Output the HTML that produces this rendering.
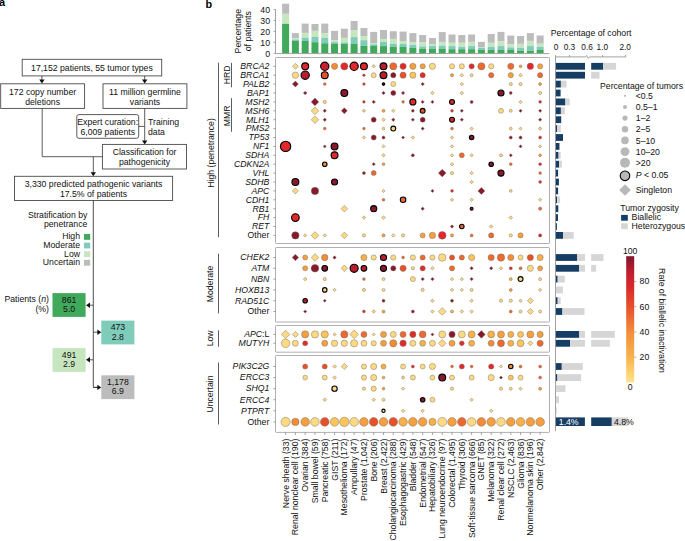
<!DOCTYPE html><html><head><meta charset="utf-8"><style>html,body{margin:0;padding:0;background:#fff;overflow:hidden}svg{display:block}text{font-family:"Liberation Sans",sans-serif;}</style></head><body><svg width="685" height="541" viewBox="0 0 685 541" font-family="Liberation Sans, sans-serif" fill="#111">
<rect width="685" height="541" fill="#fff"/>
<text x="-1.10" y="6.00" font-size="11" text-anchor="start" font-weight="bold" fill="#000">a</text>
<text x="205.40" y="7.90" font-size="10.8" text-anchor="start" font-weight="bold" fill="#000">b</text>
<rect x="22.2" y="59.3" width="139.50" height="16.60" rx="0" stroke="#4a4a4a" stroke-width="0.9" fill="none"/>
<text x="91.90" y="70.70" font-size="8.7" text-anchor="middle">17,152 patients, 55 tumor types</text>
<rect x="0.7" y="83.8" width="83.90" height="24.60" rx="0" stroke="#4a4a4a" stroke-width="0.9" fill="none"/>
<text x="42.60" y="94.70" font-size="8.7" text-anchor="middle">172 copy number</text>
<text x="42.60" y="104.70" font-size="8.7" text-anchor="middle">deletions</text>
<rect x="103.0" y="83.8" width="83.90" height="24.60" rx="0" stroke="#4a4a4a" stroke-width="0.9" fill="none"/>
<text x="145.00" y="94.70" font-size="8.7" text-anchor="middle">11 million germline</text>
<text x="145.00" y="104.70" font-size="8.7" text-anchor="middle">variants</text>
<line x1="41.9" y1="75.9" x2="41.9" y2="81.0" stroke="#333" stroke-width="0.8"/>
<path d="M39.199999999999996,79.5 L44.6,79.5 L41.9,83.5 Z" fill="#111"/>
<line x1="144.7" y1="75.9" x2="144.7" y2="81.0" stroke="#333" stroke-width="0.8"/>
<path d="M142.0,79.5 L147.39999999999998,79.5 L144.7,83.5 Z" fill="#111"/>
<rect x="76.8" y="114.6" width="61.90" height="23.70" rx="2.2" stroke="#4a4a4a" stroke-width="0.9" fill="none"/>
<text x="107.70" y="124.70" font-size="8.7" text-anchor="middle">Expert curation:</text>
<text x="107.70" y="134.80" font-size="8.7" text-anchor="middle">6,009 patients</text>
<line x1="138.7" y1="126.4" x2="144.7" y2="126.4" stroke="#333" stroke-width="0.8"/>
<line x1="144.7" y1="108.4" x2="144.7" y2="141.9" stroke="#333" stroke-width="0.8"/>
<path d="M142.0,140.4 L147.39999999999998,140.4 L144.7,144.4 Z" fill="#111"/>
<text x="148.00" y="125.10" font-size="8.7" text-anchor="start">Training</text>
<text x="148.00" y="134.80" font-size="8.7" text-anchor="start">data</text>
<rect x="102.4" y="144.4" width="84.10" height="24.60" rx="0" stroke="#4a4a4a" stroke-width="0.9" fill="none"/>
<text x="144.50" y="154.90" font-size="8.7" text-anchor="middle">Classification for</text>
<text x="144.50" y="165.40" font-size="8.7" text-anchor="middle">pathogenicity</text>
<polyline points="42.2,108.4 42.2,156.7 102.4,156.7" stroke="#333" stroke-width="0.8" fill="none"/>
<line x1="93.3" y1="156.7" x2="93.3" y2="173.8" stroke="#333" stroke-width="0.8"/>
<path d="M90.6,172.3 L96.0,172.3 L93.3,176.3 Z" fill="#111"/>
<rect x="14.5" y="176.3" width="158.10" height="24.20" rx="0" stroke="#4a4a4a" stroke-width="0.9" fill="none"/>
<text x="93.50" y="186.50" font-size="8.7" text-anchor="middle">3,330 predicted pathogenic variants</text>
<text x="93.50" y="196.50" font-size="8.7" text-anchor="middle">17.5% of patients</text>
<polyline points="93.3,200.5 93.3,387.4 99.5,387.4" stroke="#222" stroke-width="0.8" fill="none"/>
<text x="87.40" y="217.70" font-size="8.7" text-anchor="end">Stratification by</text>
<text x="87.40" y="227.20" font-size="8.7" text-anchor="end">penetrance</text>
<rect x="84.0" y="234.00" width="6.2" height="5.8" fill="#41a95b"/>
<text x="80.00" y="239.40" font-size="8.7" text-anchor="end">High</text>
<rect x="84.0" y="242.63" width="6.2" height="5.8" fill="#7fccbb"/>
<text x="80.00" y="248.03" font-size="8.7" text-anchor="end">Moderate</text>
<rect x="84.0" y="251.26" width="6.2" height="5.8" fill="#c7e6bf"/>
<text x="80.00" y="256.66" font-size="8.7" text-anchor="end">Low</text>
<rect x="84.0" y="259.89" width="6.2" height="5.8" fill="#bcbcbc"/>
<text x="80.00" y="265.29" font-size="8.7" text-anchor="end">Uncertain</text>
<rect x="52.5" y="293.1" width="33.1" height="23.8" fill="#41a95b"/>
<text x="69.10" y="302.50" font-size="8.7" text-anchor="middle">861</text>
<text x="69.10" y="312.10" font-size="8.7" text-anchor="middle">5.0</text>
<rect x="101.3" y="320.6" width="33.1" height="23.8" fill="#7fccbb"/>
<text x="117.90" y="330.00" font-size="8.7" text-anchor="middle">473</text>
<text x="117.90" y="339.60" font-size="8.7" text-anchor="middle">2.8</text>
<rect x="52.5" y="348.1" width="33.1" height="23.8" fill="#c7e6bf"/>
<text x="69.10" y="357.50" font-size="8.7" text-anchor="middle">491</text>
<text x="69.10" y="367.10" font-size="8.7" text-anchor="middle">2.9</text>
<rect x="101.3" y="375.3" width="33.1" height="23.8" fill="#bcbcbc"/>
<text x="117.90" y="384.70" font-size="8.7" text-anchor="middle">1,178</text>
<text x="117.90" y="394.30" font-size="8.7" text-anchor="middle">6.9</text>
<line x1="93.3" y1="305.2" x2="88.5" y2="305.2" stroke="#333" stroke-width="0.8"/>
<path d="M90.0,302.5 L90.0,307.9 L86.0,305.2 Z" fill="#111"/>
<line x1="93.3" y1="332.2" x2="98.8" y2="332.2" stroke="#333" stroke-width="0.8"/>
<path d="M97.3,329.5 L97.3,334.9 L101.3,332.2 Z" fill="#111"/>
<line x1="93.3" y1="359.8" x2="88.5" y2="359.8" stroke="#333" stroke-width="0.8"/>
<path d="M90.0,357.1 L90.0,362.5 L86.0,359.8 Z" fill="#111"/>
<line x1="93.3" y1="387.4" x2="98.8" y2="387.4" stroke="#333" stroke-width="0.8"/>
<path d="M97.3,384.7 L97.3,390.09999999999997 L101.3,387.4 Z" fill="#111"/>
<text x="48.90" y="301.60" font-size="8.7" text-anchor="end">Patients (<tspan font-style="italic">n</tspan>)</text>
<text x="48.90" y="311.60" font-size="8.7" text-anchor="end">(%)</text>
<line x1="275.5" y1="9.4" x2="275.5" y2="53.3" stroke="#8a8a8a" stroke-width="0.8"/>
<line x1="273.6" y1="53.30" x2="275.5" y2="53.30" stroke="#8a8a8a" stroke-width="0.8"/>
<text x="270.00" y="56.90" font-size="8.7" text-anchor="end">0</text>
<line x1="273.6" y1="42.35" x2="275.5" y2="42.35" stroke="#8a8a8a" stroke-width="0.8"/>
<text x="270.00" y="45.95" font-size="8.7" text-anchor="end">10</text>
<line x1="273.6" y1="31.40" x2="275.5" y2="31.40" stroke="#8a8a8a" stroke-width="0.8"/>
<text x="270.00" y="35.00" font-size="8.7" text-anchor="end">20</text>
<line x1="273.6" y1="20.45" x2="275.5" y2="20.45" stroke="#8a8a8a" stroke-width="0.8"/>
<text x="270.00" y="24.05" font-size="8.7" text-anchor="end">30</text>
<line x1="273.6" y1="9.50" x2="275.5" y2="9.50" stroke="#8a8a8a" stroke-width="0.8"/>
<text x="270.00" y="13.10" font-size="8.7" text-anchor="end">40</text>
<text transform="translate(240.60,31.20) rotate(-90)" font-size="8.7" text-anchor="middle">Percentage</text>
<text transform="translate(250.60,31.20) rotate(-90)" font-size="8.7" text-anchor="middle">of patients</text>
<rect x="282.10" y="3.7" width="7" height="10.10" fill="#bcbcbc"/>
<rect x="282.10" y="13.8" width="7" height="10.00" fill="#c7e6bf"/>
<rect x="282.10" y="23.8" width="7" height="0.00" fill="#7fccbb"/>
<rect x="282.10" y="23.8" width="7" height="29.50" fill="#41a95b"/>
<rect x="291.89" y="33.1" width="7" height="5.20" fill="#bcbcbc"/>
<rect x="291.89" y="38.3" width="7" height="1.20" fill="#c7e6bf"/>
<rect x="291.89" y="39.5" width="7" height="1.20" fill="#7fccbb"/>
<rect x="291.89" y="40.7" width="7" height="12.60" fill="#41a95b"/>
<rect x="301.68" y="23.6" width="7" height="9.30" fill="#bcbcbc"/>
<rect x="301.68" y="32.9" width="7" height="4.70" fill="#c7e6bf"/>
<rect x="301.68" y="37.6" width="7" height="3.30" fill="#7fccbb"/>
<rect x="301.68" y="40.9" width="7" height="12.40" fill="#41a95b"/>
<rect x="311.47" y="24.0" width="7" height="6.90" fill="#bcbcbc"/>
<rect x="311.47" y="30.9" width="7" height="6.00" fill="#c7e6bf"/>
<rect x="311.47" y="36.9" width="7" height="5.30" fill="#7fccbb"/>
<rect x="311.47" y="42.2" width="7" height="11.10" fill="#41a95b"/>
<rect x="321.26" y="23.6" width="7" height="9.50" fill="#bcbcbc"/>
<rect x="321.26" y="33.1" width="7" height="4.80" fill="#c7e6bf"/>
<rect x="321.26" y="37.9" width="7" height="5.40" fill="#7fccbb"/>
<rect x="321.26" y="43.3" width="7" height="10.00" fill="#41a95b"/>
<rect x="331.05" y="30.9" width="7" height="9.50" fill="#bcbcbc"/>
<rect x="331.05" y="40.4" width="7" height="1.80" fill="#c7e6bf"/>
<rect x="331.05" y="42.2" width="7" height="1.30" fill="#7fccbb"/>
<rect x="331.05" y="43.5" width="7" height="9.80" fill="#41a95b"/>
<rect x="340.84" y="28.7" width="7" height="9.20" fill="#bcbcbc"/>
<rect x="340.84" y="37.9" width="7" height="4.60" fill="#c7e6bf"/>
<rect x="340.84" y="42.5" width="7" height="1.30" fill="#7fccbb"/>
<rect x="340.84" y="43.8" width="7" height="9.50" fill="#41a95b"/>
<rect x="350.63" y="21.0" width="7" height="9.10" fill="#bcbcbc"/>
<rect x="350.63" y="30.1" width="7" height="7.00" fill="#c7e6bf"/>
<rect x="350.63" y="37.1" width="7" height="6.90" fill="#7fccbb"/>
<rect x="350.63" y="44.0" width="7" height="9.30" fill="#41a95b"/>
<rect x="360.42" y="28.0" width="7" height="8.00" fill="#bcbcbc"/>
<rect x="360.42" y="36.0" width="7" height="4.20" fill="#c7e6bf"/>
<rect x="360.42" y="40.2" width="7" height="5.70" fill="#7fccbb"/>
<rect x="360.42" y="45.9" width="7" height="7.40" fill="#41a95b"/>
<rect x="370.21" y="31.9" width="7" height="11.10" fill="#bcbcbc"/>
<rect x="370.21" y="43.0" width="7" height="1.30" fill="#c7e6bf"/>
<rect x="370.21" y="44.3" width="7" height="1.60" fill="#7fccbb"/>
<rect x="370.21" y="45.9" width="7" height="7.40" fill="#41a95b"/>
<rect x="380.00" y="30.0" width="7" height="9.10" fill="#bcbcbc"/>
<rect x="380.00" y="39.1" width="7" height="2.90" fill="#c7e6bf"/>
<rect x="380.00" y="42.0" width="7" height="4.10" fill="#7fccbb"/>
<rect x="380.00" y="46.1" width="7" height="7.20" fill="#41a95b"/>
<rect x="389.79" y="31.2" width="7" height="7.70" fill="#bcbcbc"/>
<rect x="389.79" y="38.9" width="7" height="4.90" fill="#c7e6bf"/>
<rect x="389.79" y="43.8" width="7" height="3.00" fill="#7fccbb"/>
<rect x="389.79" y="46.8" width="7" height="6.50" fill="#41a95b"/>
<rect x="399.58" y="31.6" width="7" height="9.40" fill="#bcbcbc"/>
<rect x="399.58" y="41.0" width="7" height="2.90" fill="#c7e6bf"/>
<rect x="399.58" y="43.9" width="7" height="3.00" fill="#7fccbb"/>
<rect x="399.58" y="46.9" width="7" height="6.40" fill="#41a95b"/>
<rect x="409.37" y="33.1" width="7" height="8.90" fill="#bcbcbc"/>
<rect x="409.37" y="42.0" width="7" height="3.00" fill="#c7e6bf"/>
<rect x="409.37" y="45.0" width="7" height="2.80" fill="#7fccbb"/>
<rect x="409.37" y="47.8" width="7" height="5.50" fill="#41a95b"/>
<rect x="419.16" y="35.0" width="7" height="7.10" fill="#bcbcbc"/>
<rect x="419.16" y="42.1" width="7" height="4.30" fill="#c7e6bf"/>
<rect x="419.16" y="46.4" width="7" height="2.50" fill="#7fccbb"/>
<rect x="419.16" y="48.9" width="7" height="4.40" fill="#41a95b"/>
<rect x="428.95" y="38.0" width="7" height="6.00" fill="#bcbcbc"/>
<rect x="428.95" y="44.0" width="7" height="1.90" fill="#c7e6bf"/>
<rect x="428.95" y="45.9" width="7" height="3.00" fill="#7fccbb"/>
<rect x="428.95" y="48.9" width="7" height="4.40" fill="#41a95b"/>
<rect x="438.74" y="32.1" width="7" height="9.80" fill="#bcbcbc"/>
<rect x="438.74" y="41.9" width="7" height="3.70" fill="#c7e6bf"/>
<rect x="438.74" y="45.6" width="7" height="3.30" fill="#7fccbb"/>
<rect x="438.74" y="48.9" width="7" height="4.40" fill="#41a95b"/>
<rect x="448.53" y="34.5" width="7" height="8.30" fill="#bcbcbc"/>
<rect x="448.53" y="42.8" width="7" height="3.30" fill="#c7e6bf"/>
<rect x="448.53" y="46.1" width="7" height="3.10" fill="#7fccbb"/>
<rect x="448.53" y="49.2" width="7" height="4.10" fill="#41a95b"/>
<rect x="458.32" y="35.0" width="7" height="7.80" fill="#bcbcbc"/>
<rect x="458.32" y="42.8" width="7" height="4.10" fill="#c7e6bf"/>
<rect x="458.32" y="46.9" width="7" height="2.30" fill="#7fccbb"/>
<rect x="458.32" y="49.2" width="7" height="4.10" fill="#41a95b"/>
<rect x="468.11" y="34.5" width="7" height="7.40" fill="#bcbcbc"/>
<rect x="468.11" y="41.9" width="7" height="4.20" fill="#c7e6bf"/>
<rect x="468.11" y="46.1" width="7" height="3.10" fill="#7fccbb"/>
<rect x="468.11" y="49.2" width="7" height="4.10" fill="#41a95b"/>
<rect x="477.90" y="41.9" width="7" height="5.10" fill="#bcbcbc"/>
<rect x="477.90" y="47.0" width="7" height="0.90" fill="#c7e6bf"/>
<rect x="477.90" y="47.9" width="7" height="1.70" fill="#7fccbb"/>
<rect x="477.90" y="49.6" width="7" height="3.70" fill="#41a95b"/>
<rect x="487.69" y="34.0" width="7" height="8.80" fill="#bcbcbc"/>
<rect x="487.69" y="42.8" width="7" height="4.00" fill="#c7e6bf"/>
<rect x="487.69" y="46.8" width="7" height="3.10" fill="#7fccbb"/>
<rect x="487.69" y="49.9" width="7" height="3.40" fill="#41a95b"/>
<rect x="497.48" y="31.9" width="7" height="9.50" fill="#bcbcbc"/>
<rect x="497.48" y="41.4" width="7" height="4.70" fill="#c7e6bf"/>
<rect x="497.48" y="46.1" width="7" height="3.80" fill="#7fccbb"/>
<rect x="497.48" y="49.9" width="7" height="3.40" fill="#41a95b"/>
<rect x="507.27" y="35.5" width="7" height="8.70" fill="#bcbcbc"/>
<rect x="507.27" y="44.2" width="7" height="3.20" fill="#c7e6bf"/>
<rect x="507.27" y="47.4" width="7" height="2.50" fill="#7fccbb"/>
<rect x="507.27" y="49.9" width="7" height="3.40" fill="#41a95b"/>
<rect x="517.06" y="36.0" width="7" height="7.80" fill="#bcbcbc"/>
<rect x="517.06" y="43.8" width="7" height="4.00" fill="#c7e6bf"/>
<rect x="517.06" y="47.8" width="7" height="2.90" fill="#7fccbb"/>
<rect x="517.06" y="50.7" width="7" height="2.60" fill="#41a95b"/>
<rect x="526.85" y="33.1" width="7" height="7.80" fill="#bcbcbc"/>
<rect x="526.85" y="40.9" width="7" height="5.20" fill="#c7e6bf"/>
<rect x="526.85" y="46.1" width="7" height="4.80" fill="#7fccbb"/>
<rect x="526.85" y="50.9" width="7" height="2.40" fill="#41a95b"/>
<rect x="536.64" y="35.5" width="7" height="8.20" fill="#bcbcbc"/>
<rect x="536.64" y="43.7" width="7" height="3.10" fill="#c7e6bf"/>
<rect x="536.64" y="46.8" width="7" height="3.10" fill="#7fccbb"/>
<rect x="536.64" y="49.9" width="7" height="3.40" fill="#41a95b"/>
<line x1="275.5" y1="53.6" x2="549.3" y2="53.6" stroke="#8a8a8a" stroke-width="0.8"/>
<rect x="275.5" y="57.5" width="274.00" height="186.00" rx="0.8" stroke="#9a9a9a" stroke-width="0.8" fill="none"/>
<line x1="273.4" y1="66.3" x2="275.6" y2="66.3" stroke="#8a8a8a" stroke-width="0.8"/>
<text x="269.30" y="69.10" font-size="8.7" text-anchor="end" font-style="italic">BRCA2</text>
<line x1="273.4" y1="75.2" x2="275.6" y2="75.2" stroke="#8a8a8a" stroke-width="0.8"/>
<text x="269.30" y="78.00" font-size="8.7" text-anchor="end" font-style="italic">BRCA1</text>
<line x1="273.4" y1="84.1" x2="275.6" y2="84.1" stroke="#8a8a8a" stroke-width="0.8"/>
<text x="269.30" y="86.90" font-size="8.7" text-anchor="end" font-style="italic">PALB2</text>
<line x1="273.4" y1="93.0" x2="275.6" y2="93.0" stroke="#8a8a8a" stroke-width="0.8"/>
<text x="269.30" y="95.80" font-size="8.7" text-anchor="end" font-style="italic">BAP1</text>
<line x1="273.4" y1="101.9" x2="275.6" y2="101.9" stroke="#8a8a8a" stroke-width="0.8"/>
<text x="269.30" y="104.70" font-size="8.7" text-anchor="end" font-style="italic">MSH2</text>
<line x1="273.4" y1="110.8" x2="275.6" y2="110.8" stroke="#8a8a8a" stroke-width="0.8"/>
<text x="269.30" y="113.60" font-size="8.7" text-anchor="end" font-style="italic">MSH6</text>
<line x1="273.4" y1="119.7" x2="275.6" y2="119.7" stroke="#8a8a8a" stroke-width="0.8"/>
<text x="269.30" y="122.50" font-size="8.7" text-anchor="end" font-style="italic">MLH1</text>
<line x1="273.4" y1="128.6" x2="275.6" y2="128.6" stroke="#8a8a8a" stroke-width="0.8"/>
<text x="269.30" y="131.40" font-size="8.7" text-anchor="end" font-style="italic">PMS2</text>
<line x1="273.4" y1="137.5" x2="275.6" y2="137.5" stroke="#8a8a8a" stroke-width="0.8"/>
<text x="269.30" y="140.30" font-size="8.7" text-anchor="end" font-style="italic">TP53</text>
<line x1="273.4" y1="146.4" x2="275.6" y2="146.4" stroke="#8a8a8a" stroke-width="0.8"/>
<text x="269.30" y="149.20" font-size="8.7" text-anchor="end" font-style="italic">NF1</text>
<line x1="273.4" y1="155.3" x2="275.6" y2="155.3" stroke="#8a8a8a" stroke-width="0.8"/>
<text x="269.30" y="158.10" font-size="8.7" text-anchor="end" font-style="italic">SDHA</text>
<line x1="273.4" y1="164.2" x2="275.6" y2="164.2" stroke="#8a8a8a" stroke-width="0.8"/>
<text x="269.30" y="167.00" font-size="8.7" text-anchor="end" font-style="italic">CDKN2A</text>
<line x1="273.4" y1="173.10000000000002" x2="275.6" y2="173.10000000000002" stroke="#8a8a8a" stroke-width="0.8"/>
<text x="269.30" y="175.90" font-size="8.7" text-anchor="end" font-style="italic">VHL</text>
<line x1="273.4" y1="182.0" x2="275.6" y2="182.0" stroke="#8a8a8a" stroke-width="0.8"/>
<text x="269.30" y="184.80" font-size="8.7" text-anchor="end" font-style="italic">SDHB</text>
<line x1="273.4" y1="190.9" x2="275.6" y2="190.9" stroke="#8a8a8a" stroke-width="0.8"/>
<text x="269.30" y="193.70" font-size="8.7" text-anchor="end" font-style="italic">APC</text>
<line x1="273.4" y1="199.8" x2="275.6" y2="199.8" stroke="#8a8a8a" stroke-width="0.8"/>
<text x="269.30" y="202.60" font-size="8.7" text-anchor="end" font-style="italic">CDH1</text>
<line x1="273.4" y1="208.7" x2="275.6" y2="208.7" stroke="#8a8a8a" stroke-width="0.8"/>
<text x="269.30" y="211.50" font-size="8.7" text-anchor="end" font-style="italic">RB1</text>
<line x1="273.4" y1="217.60000000000002" x2="275.6" y2="217.60000000000002" stroke="#8a8a8a" stroke-width="0.8"/>
<text x="269.30" y="220.40" font-size="8.7" text-anchor="end" font-style="italic">FH</text>
<line x1="273.4" y1="226.5" x2="275.6" y2="226.5" stroke="#8a8a8a" stroke-width="0.8"/>
<text x="269.30" y="229.30" font-size="8.7" text-anchor="end" font-style="italic">RET</text>
<line x1="273.4" y1="235.39999999999998" x2="275.6" y2="235.39999999999998" stroke="#8a8a8a" stroke-width="0.8"/>
<text x="269.30" y="238.20" font-size="8.7" text-anchor="end">Other</text>
<rect x="275.5" y="247.5" width="274.00" height="74.50" rx="0.8" stroke="#9a9a9a" stroke-width="0.8" fill="none"/>
<line x1="273.4" y1="257.5" x2="275.6" y2="257.5" stroke="#8a8a8a" stroke-width="0.8"/>
<text x="269.30" y="260.30" font-size="8.7" text-anchor="end" font-style="italic">CHEK2</text>
<line x1="273.4" y1="268.3" x2="275.6" y2="268.3" stroke="#8a8a8a" stroke-width="0.8"/>
<text x="269.30" y="271.10" font-size="8.7" text-anchor="end" font-style="italic">ATM</text>
<line x1="273.4" y1="279.1" x2="275.6" y2="279.1" stroke="#8a8a8a" stroke-width="0.8"/>
<text x="269.30" y="281.90" font-size="8.7" text-anchor="end" font-style="italic">NBN</text>
<line x1="273.4" y1="289.9" x2="275.6" y2="289.9" stroke="#8a8a8a" stroke-width="0.8"/>
<text x="269.30" y="292.70" font-size="8.7" text-anchor="end" font-style="italic">HOXB13</text>
<line x1="273.4" y1="300.7" x2="275.6" y2="300.7" stroke="#8a8a8a" stroke-width="0.8"/>
<text x="269.30" y="303.50" font-size="8.7" text-anchor="end" font-style="italic">RAD51C</text>
<line x1="273.4" y1="311.5" x2="275.6" y2="311.5" stroke="#8a8a8a" stroke-width="0.8"/>
<text x="269.30" y="314.30" font-size="8.7" text-anchor="end">Other</text>
<rect x="275.5" y="325.5" width="274.00" height="26.70" rx="0.8" stroke="#9a9a9a" stroke-width="0.8" fill="none"/>
<line x1="273.4" y1="334.4" x2="275.6" y2="334.4" stroke="#8a8a8a" stroke-width="0.8"/>
<text x="269.30" y="337.20" font-size="8.7" text-anchor="end"><tspan font-style="italic">APC</tspan>:L</text>
<line x1="273.4" y1="343.3" x2="275.6" y2="343.3" stroke="#8a8a8a" stroke-width="0.8"/>
<text x="269.30" y="346.10" font-size="8.7" text-anchor="end" font-style="italic">MUTYH</text>
<rect x="275.5" y="355.5" width="274.00" height="76.90" rx="0.8" stroke="#9a9a9a" stroke-width="0.8" fill="none"/>
<line x1="273.4" y1="366.5" x2="275.6" y2="366.5" stroke="#8a8a8a" stroke-width="0.8"/>
<text x="269.30" y="369.30" font-size="8.7" text-anchor="end" font-style="italic">PIK3C2G</text>
<line x1="273.4" y1="377.58" x2="275.6" y2="377.58" stroke="#8a8a8a" stroke-width="0.8"/>
<text x="269.30" y="380.38" font-size="8.7" text-anchor="end" font-style="italic">ERCC3</text>
<line x1="273.4" y1="388.66" x2="275.6" y2="388.66" stroke="#8a8a8a" stroke-width="0.8"/>
<text x="269.30" y="391.46" font-size="8.7" text-anchor="end" font-style="italic">SHQ1</text>
<line x1="273.4" y1="399.74" x2="275.6" y2="399.74" stroke="#8a8a8a" stroke-width="0.8"/>
<text x="269.30" y="402.54" font-size="8.7" text-anchor="end" font-style="italic">ERCC4</text>
<line x1="273.4" y1="410.82" x2="275.6" y2="410.82" stroke="#8a8a8a" stroke-width="0.8"/>
<text x="269.30" y="413.62" font-size="8.7" text-anchor="end" font-style="italic">PTPRT</text>
<line x1="273.4" y1="421.9" x2="275.6" y2="421.9" stroke="#8a8a8a" stroke-width="0.8"/>
<text x="269.30" y="424.70" font-size="8.7" text-anchor="end">Other</text>
<line x1="285.60" y1="432.4" x2="285.60" y2="434.9" stroke="#8a8a8a" stroke-width="0.8"/>
<text transform="translate(288.60,438.60) rotate(-90)" font-size="8.7" text-anchor="end">Nerve sheath (33)</text>
<line x1="295.39" y1="432.4" x2="295.39" y2="434.9" stroke="#8a8a8a" stroke-width="0.8"/>
<text transform="translate(298.39,438.60) rotate(-90)" font-size="8.7" text-anchor="end">Renal nonclear cell (190)</text>
<line x1="305.18" y1="432.4" x2="305.18" y2="434.9" stroke="#8a8a8a" stroke-width="0.8"/>
<text transform="translate(308.18,438.60) rotate(-90)" font-size="8.7" text-anchor="end">Ovarian (384)</text>
<line x1="314.97" y1="432.4" x2="314.97" y2="434.9" stroke="#8a8a8a" stroke-width="0.8"/>
<text transform="translate(317.97,438.60) rotate(-90)" font-size="8.7" text-anchor="end">Small bowel (59)</text>
<line x1="324.76" y1="432.4" x2="324.76" y2="434.9" stroke="#8a8a8a" stroke-width="0.8"/>
<text transform="translate(327.76,438.60) rotate(-90)" font-size="8.7" text-anchor="end">Pancreatic (758)</text>
<line x1="334.55" y1="432.4" x2="334.55" y2="434.9" stroke="#8a8a8a" stroke-width="0.8"/>
<text transform="translate(337.55,438.60) rotate(-90)" font-size="8.7" text-anchor="end">GIST (211)</text>
<line x1="344.34" y1="432.4" x2="344.34" y2="434.9" stroke="#8a8a8a" stroke-width="0.8"/>
<text transform="translate(347.34,438.60) rotate(-90)" font-size="8.7" text-anchor="end">Mesothelioma (172)</text>
<line x1="354.13" y1="432.4" x2="354.13" y2="434.9" stroke="#8a8a8a" stroke-width="0.8"/>
<text transform="translate(357.13,438.60) rotate(-90)" font-size="8.7" text-anchor="end">Ampullary (47)</text>
<line x1="363.92" y1="432.4" x2="363.92" y2="434.9" stroke="#8a8a8a" stroke-width="0.8"/>
<text transform="translate(366.92,438.60) rotate(-90)" font-size="8.7" text-anchor="end">Prostate (1,042)</text>
<line x1="373.71" y1="432.4" x2="373.71" y2="434.9" stroke="#8a8a8a" stroke-width="0.8"/>
<text transform="translate(376.71,438.60) rotate(-90)" font-size="8.7" text-anchor="end">Bone (206)</text>
<line x1="383.50" y1="432.4" x2="383.50" y2="434.9" stroke="#8a8a8a" stroke-width="0.8"/>
<text transform="translate(386.50,438.60) rotate(-90)" font-size="8.7" text-anchor="end">Breast (2,422)</text>
<line x1="393.29" y1="432.4" x2="393.29" y2="434.9" stroke="#8a8a8a" stroke-width="0.8"/>
<text transform="translate(396.29,438.60) rotate(-90)" font-size="8.7" text-anchor="end">Cholangiocarcinoma (288)</text>
<line x1="403.08" y1="432.4" x2="403.08" y2="434.9" stroke="#8a8a8a" stroke-width="0.8"/>
<text transform="translate(406.08,438.60) rotate(-90)" font-size="8.7" text-anchor="end">Esophagogastric (429)</text>
<line x1="412.87" y1="432.4" x2="412.87" y2="434.9" stroke="#8a8a8a" stroke-width="0.8"/>
<text transform="translate(415.87,438.60) rotate(-90)" font-size="8.7" text-anchor="end">Bladder (548)</text>
<line x1="422.66" y1="432.4" x2="422.66" y2="434.9" stroke="#8a8a8a" stroke-width="0.8"/>
<text transform="translate(425.66,438.60) rotate(-90)" font-size="8.7" text-anchor="end">Endometrial (547)</text>
<line x1="432.45" y1="432.4" x2="432.45" y2="434.9" stroke="#8a8a8a" stroke-width="0.8"/>
<text transform="translate(435.45,438.60) rotate(-90)" font-size="8.7" text-anchor="end">Hepatobiliary (326)</text>
<line x1="442.24" y1="432.4" x2="442.24" y2="434.9" stroke="#8a8a8a" stroke-width="0.8"/>
<text transform="translate(445.24,438.60) rotate(-90)" font-size="8.7" text-anchor="end">Lung neuroendocrine (97)</text>
<line x1="452.03" y1="432.4" x2="452.03" y2="434.9" stroke="#8a8a8a" stroke-width="0.8"/>
<text transform="translate(455.03,438.60) rotate(-90)" font-size="8.7" text-anchor="end">Colorectal (1,495)</text>
<line x1="461.82" y1="432.4" x2="461.82" y2="434.9" stroke="#8a8a8a" stroke-width="0.8"/>
<text transform="translate(464.82,438.60) rotate(-90)" font-size="8.7" text-anchor="end">Thyroid (306)</text>
<line x1="471.61" y1="432.4" x2="471.61" y2="434.9" stroke="#8a8a8a" stroke-width="0.8"/>
<text transform="translate(474.61,438.60) rotate(-90)" font-size="8.7" text-anchor="end">Soft-tissue sarcoma (666)</text>
<line x1="481.40" y1="432.4" x2="481.40" y2="434.9" stroke="#8a8a8a" stroke-width="0.8"/>
<text transform="translate(484.40,438.60) rotate(-90)" font-size="8.7" text-anchor="end">GNET (85)</text>
<line x1="491.19" y1="432.4" x2="491.19" y2="434.9" stroke="#8a8a8a" stroke-width="0.8"/>
<text transform="translate(494.19,438.60) rotate(-90)" font-size="8.7" text-anchor="end">Melanoma (322)</text>
<line x1="500.98" y1="432.4" x2="500.98" y2="434.9" stroke="#8a8a8a" stroke-width="0.8"/>
<text transform="translate(503.98,438.60) rotate(-90)" font-size="8.7" text-anchor="end">Renal clear cell (272)</text>
<line x1="510.77" y1="432.4" x2="510.77" y2="434.9" stroke="#8a8a8a" stroke-width="0.8"/>
<text transform="translate(513.77,438.60) rotate(-90)" font-size="8.7" text-anchor="end">NSCLC (2,463)</text>
<line x1="520.56" y1="432.4" x2="520.56" y2="434.9" stroke="#8a8a8a" stroke-width="0.8"/>
<text transform="translate(523.56,438.60) rotate(-90)" font-size="8.7" text-anchor="end">Glioma (836)</text>
<line x1="530.35" y1="432.4" x2="530.35" y2="434.9" stroke="#8a8a8a" stroke-width="0.8"/>
<text transform="translate(533.35,438.60) rotate(-90)" font-size="8.7" text-anchor="end">Nonmelanoma skin (196)</text>
<line x1="540.14" y1="432.4" x2="540.14" y2="434.9" stroke="#8a8a8a" stroke-width="0.8"/>
<text transform="translate(543.14,438.60) rotate(-90)" font-size="8.7" text-anchor="end">Other (2,842)</text>
<line x1="218.5" y1="62.7" x2="218.5" y2="237.2" stroke="#333" stroke-width="0.8"/>
<text transform="translate(214.00,153.00) rotate(-90)" font-size="8.7" text-anchor="middle">High (penetrance)</text>
<line x1="231.5" y1="62.9" x2="231.5" y2="87.3" stroke="#333" stroke-width="0.8"/>
<text transform="translate(229.60,74.90) rotate(-90)" font-size="8.7" text-anchor="middle">HRD</text>
<line x1="231.5" y1="98.2" x2="231.5" y2="131.8" stroke="#333" stroke-width="0.8"/>
<text transform="translate(229.60,115.90) rotate(-90)" font-size="8.7" text-anchor="middle">MMR</text>
<line x1="218.5" y1="253.8" x2="218.5" y2="313.4" stroke="#333" stroke-width="0.8"/>
<text transform="translate(213.00,284.00) rotate(-90)" font-size="8.7" text-anchor="middle">Moderate</text>
<line x1="218.5" y1="330.3" x2="218.5" y2="346.8" stroke="#333" stroke-width="0.8"/>
<text transform="translate(213.00,338.40) rotate(-90)" font-size="8.7" text-anchor="middle">Low</text>
<line x1="218.5" y1="362.5" x2="218.5" y2="424.5" stroke="#333" stroke-width="0.8"/>
<text transform="translate(213.00,394.00) rotate(-90)" font-size="8.7" text-anchor="middle">Uncertain</text>
<path d="M295.39,63.40 L298.29,66.30 L295.39,69.20 L292.49,66.30 Z" fill="#fcd983" stroke="#776b5a" stroke-width="0.45"/>
<circle cx="305.18" cy="66.30" r="3.45" fill="#e0292c" stroke="#000" stroke-width="1.1"/>
<circle cx="324.76" cy="66.30" r="4.15" fill="#c8202f" stroke="#000" stroke-width="1.1"/>
<circle cx="334.55" cy="66.30" r="3.10" fill="#f28c38" stroke="#776b5a" stroke-width="0.45"/>
<circle cx="344.34" cy="66.30" r="3.60" fill="#e0292c" stroke="#776b5a" stroke-width="0.45"/>
<circle cx="354.13" cy="66.30" r="4.15" fill="#e0292c" stroke="#000" stroke-width="1.1"/>
<circle cx="363.92" cy="66.30" r="3.45" fill="#e0292c" stroke="#000" stroke-width="1.1"/>
<path d="M373.71,64.50 L375.51,66.30 L373.71,68.10 L371.91,66.30 Z" fill="#fcd983" stroke="#776b5a" stroke-width="0.45"/>
<circle cx="383.50" cy="66.30" r="3.45" fill="#b51f2e" stroke="#000" stroke-width="1.1"/>
<circle cx="393.29" cy="66.30" r="3.60" fill="#ec6a30" stroke="#776b5a" stroke-width="0.45"/>
<circle cx="403.08" cy="66.30" r="3.10" fill="#e0292c" stroke="#776b5a" stroke-width="0.45"/>
<circle cx="412.87" cy="66.30" r="3.10" fill="#f5a040" stroke="#776b5a" stroke-width="0.45"/>
<circle cx="422.66" cy="66.30" r="2.60" fill="#f5a040" stroke="#776b5a" stroke-width="0.45"/>
<circle cx="432.45" cy="66.30" r="3.10" fill="#fcd983" stroke="#776b5a" stroke-width="0.45"/>
<circle cx="452.03" cy="66.30" r="2.60" fill="#fcd983" stroke="#776b5a" stroke-width="0.45"/>
<circle cx="461.82" cy="66.30" r="2.60" fill="#fcd983" stroke="#776b5a" stroke-width="0.45"/>
<circle cx="471.61" cy="66.30" r="2.60" fill="#e0292c" stroke="#776b5a" stroke-width="0.45"/>
<circle cx="481.40" cy="66.30" r="3.60" fill="#ec6a30" stroke="#776b5a" stroke-width="0.45"/>
<circle cx="491.19" cy="66.30" r="2.60" fill="#fcd983" stroke="#776b5a" stroke-width="0.45"/>
<circle cx="510.77" cy="66.30" r="3.10" fill="#ec6a30" stroke="#776b5a" stroke-width="0.45"/>
<circle cx="520.56" cy="66.30" r="1.40" fill="#f5a040" stroke="#776b5a" stroke-width="0.45"/>
<circle cx="530.35" cy="66.30" r="3.20" fill="#e0292c" stroke="#776b5a" stroke-width="0.45"/>
<circle cx="540.14" cy="66.30" r="2.60" fill="#f5a040" stroke="#776b5a" stroke-width="0.45"/>
<circle cx="295.39" cy="75.20" r="3.20" fill="#fcd983" stroke="#776b5a" stroke-width="0.45"/>
<circle cx="305.18" cy="75.20" r="4.15" fill="#b51f2e" stroke="#000" stroke-width="1.1"/>
<circle cx="324.76" cy="75.20" r="3.45" fill="#e8502a" stroke="#000" stroke-width="1.1"/>
<circle cx="363.92" cy="75.20" r="1.30" fill="#e0292c" stroke="#776b5a" stroke-width="0.45"/>
<circle cx="373.71" cy="75.20" r="2.50" fill="#fcd983" stroke="#776b5a" stroke-width="0.45"/>
<circle cx="383.50" cy="75.20" r="3.45" fill="#b51f2e" stroke="#000" stroke-width="1.1"/>
<circle cx="393.29" cy="75.20" r="2.60" fill="#86192d" stroke="#776b5a" stroke-width="0.45"/>
<circle cx="403.08" cy="75.20" r="3.10" fill="#e8502a" stroke="#776b5a" stroke-width="0.45"/>
<circle cx="412.87" cy="75.20" r="3.10" fill="#fbc45c" stroke="#776b5a" stroke-width="0.45"/>
<circle cx="422.66" cy="75.20" r="2.60" fill="#e0292c" stroke="#776b5a" stroke-width="0.45"/>
<circle cx="452.03" cy="75.20" r="1.60" fill="#f5a040" stroke="#776b5a" stroke-width="0.45"/>
<path d="M461.82,73.40 L463.62,75.20 L461.82,77.00 L460.02,75.20 Z" fill="#fcd983" stroke="#776b5a" stroke-width="0.45"/>
<circle cx="471.61" cy="75.20" r="1.50" fill="#fcd983" stroke="#776b5a" stroke-width="0.45"/>
<circle cx="491.19" cy="75.20" r="2.60" fill="#ec6a30" stroke="#776b5a" stroke-width="0.45"/>
<circle cx="510.77" cy="75.20" r="2.60" fill="#f5a040" stroke="#776b5a" stroke-width="0.45"/>
<path d="M520.56,73.40 L522.36,75.20 L520.56,77.00 L518.76,75.20 Z" fill="#fcd983" stroke="#776b5a" stroke-width="0.45"/>
<circle cx="540.14" cy="75.20" r="2.60" fill="#ec6a30" stroke="#776b5a" stroke-width="0.45"/>
<path d="M295.39,81.10 L298.39,84.10 L295.39,87.10 L292.39,84.10 Z" fill="#86192d" stroke="#776b5a" stroke-width="0.45"/>
<circle cx="324.76" cy="84.10" r="1.40" fill="#ec6a30" stroke="#776b5a" stroke-width="0.45"/>
<circle cx="363.92" cy="84.10" r="1.30" fill="#e0292c" stroke="#776b5a" stroke-width="0.45"/>
<circle cx="383.50" cy="84.10" r="1.25" fill="#86192d" stroke="#000" stroke-width="1.1"/>
<circle cx="393.29" cy="84.10" r="2.50" fill="#fcd983" stroke="#776b5a" stroke-width="0.45"/>
<path d="M422.66,82.40 L424.36,84.10 L422.66,85.80 L420.96,84.10 Z" fill="#86192d" stroke="#776b5a" stroke-width="0.45"/>
<path d="M461.82,82.30 L463.62,84.10 L461.82,85.90 L460.02,84.10 Z" fill="#fcd983" stroke="#776b5a" stroke-width="0.45"/>
<circle cx="510.77" cy="84.10" r="1.60" fill="#fcd983" stroke="#776b5a" stroke-width="0.45"/>
<circle cx="520.56" cy="84.10" r="1.60" fill="#fcd983" stroke="#776b5a" stroke-width="0.45"/>
<circle cx="540.14" cy="84.10" r="1.50" fill="#f5a040" stroke="#776b5a" stroke-width="0.45"/>
<path d="M305.18,91.20 L306.98,93.00 L305.18,94.80 L303.38,93.00 Z" fill="#86192d" stroke="#776b5a" stroke-width="0.45"/>
<circle cx="344.34" cy="93.00" r="3.45" fill="#86192d" stroke="#000" stroke-width="1.1"/>
<path d="M383.50,91.30 L385.20,93.00 L383.50,94.70 L381.80,93.00 Z" fill="#86192d" stroke="#776b5a" stroke-width="0.45"/>
<circle cx="393.29" cy="93.00" r="2.50" fill="#86192d" stroke="#776b5a" stroke-width="0.45"/>
<path d="M403.08,91.30 L404.78,93.00 L403.08,94.70 L401.38,93.00 Z" fill="#86192d" stroke="#776b5a" stroke-width="0.45"/>
<path d="M432.45,91.20 L434.25,93.00 L432.45,94.80 L430.65,93.00 Z" fill="#fcd983" stroke="#776b5a" stroke-width="0.45"/>
<path d="M461.82,91.20 L463.62,93.00 L461.82,94.80 L460.02,93.00 Z" fill="#fcd983" stroke="#776b5a" stroke-width="0.45"/>
<circle cx="500.98" cy="93.00" r="3.05" fill="#86192d" stroke="#000" stroke-width="1.1"/>
<circle cx="510.77" cy="93.00" r="1.40" fill="#86192d" stroke="#776b5a" stroke-width="0.45"/>
<circle cx="540.14" cy="93.00" r="1.50" fill="#fcd983" stroke="#776b5a" stroke-width="0.45"/>
<path d="M314.97,98.10 L318.77,101.90 L314.97,105.70 L311.17,101.90 Z" fill="#86192d" stroke="#776b5a" stroke-width="0.45"/>
<circle cx="324.76" cy="101.90" r="1.60" fill="#fcd983" stroke="#776b5a" stroke-width="0.45"/>
<circle cx="363.92" cy="101.90" r="1.30" fill="#e0292c" stroke="#776b5a" stroke-width="0.45"/>
<path d="M373.71,100.20 L375.41,101.90 L373.71,103.60 L372.01,101.90 Z" fill="#86192d" stroke="#776b5a" stroke-width="0.45"/>
<circle cx="403.08" cy="101.90" r="1.30" fill="#ec6a30" stroke="#776b5a" stroke-width="0.45"/>
<circle cx="412.87" cy="101.90" r="3.05" fill="#e0292c" stroke="#000" stroke-width="1.1"/>
<path d="M422.66,100.30 L424.26,101.90 L422.66,103.50 L421.06,101.90 Z" fill="#86192d" stroke="#776b5a" stroke-width="0.45"/>
<path d="M432.45,100.30 L434.05,101.90 L432.45,103.50 L430.85,101.90 Z" fill="#86192d" stroke="#776b5a" stroke-width="0.45"/>
<circle cx="452.03" cy="101.90" r="2.45" fill="#e0292c" stroke="#000" stroke-width="1.1"/>
<circle cx="471.61" cy="101.90" r="1.50" fill="#86192d" stroke="#776b5a" stroke-width="0.45"/>
<path d="M520.56,100.20 L522.26,101.90 L520.56,103.60 L518.86,101.90 Z" fill="#fcd983" stroke="#776b5a" stroke-width="0.45"/>
<circle cx="540.14" cy="101.90" r="1.40" fill="#e0292c" stroke="#776b5a" stroke-width="0.45"/>
<path d="M314.97,107.00 L318.77,110.80 L314.97,114.60 L311.17,110.80 Z" fill="#fcd983" stroke="#776b5a" stroke-width="0.45"/>
<path d="M324.76,109.10 L326.46,110.80 L324.76,112.50 L323.06,110.80 Z" fill="#86192d" stroke="#776b5a" stroke-width="0.45"/>
<path d="M344.34,107.80 L347.34,110.80 L344.34,113.80 L341.34,110.80 Z" fill="#86192d" stroke="#776b5a" stroke-width="0.45"/>
<circle cx="363.92" cy="110.80" r="1.30" fill="#fcd983" stroke="#776b5a" stroke-width="0.45"/>
<circle cx="383.50" cy="110.80" r="1.50" fill="#f5a040" stroke="#776b5a" stroke-width="0.45"/>
<path d="M393.29,109.10 L394.99,110.80 L393.29,112.50 L391.59,110.80 Z" fill="#fcd983" stroke="#776b5a" stroke-width="0.45"/>
<circle cx="412.87" cy="110.80" r="1.40" fill="#86192d" stroke="#776b5a" stroke-width="0.45"/>
<circle cx="422.66" cy="110.80" r="2.45" fill="#e8502a" stroke="#000" stroke-width="1.1"/>
<circle cx="452.03" cy="110.80" r="1.40" fill="#e0292c" stroke="#776b5a" stroke-width="0.45"/>
<path d="M461.82,109.20 L463.42,110.80 L461.82,112.40 L460.22,110.80 Z" fill="#86192d" stroke="#776b5a" stroke-width="0.45"/>
<circle cx="500.98" cy="110.80" r="2.50" fill="#fcd983" stroke="#776b5a" stroke-width="0.45"/>
<circle cx="510.77" cy="110.80" r="1.50" fill="#fcd983" stroke="#776b5a" stroke-width="0.45"/>
<path d="M520.56,109.20 L522.16,110.80 L520.56,112.40 L518.96,110.80 Z" fill="#86192d" stroke="#776b5a" stroke-width="0.45"/>
<path d="M540.14,109.20 L541.74,110.80 L540.14,112.40 L538.54,110.80 Z" fill="#86192d" stroke="#776b5a" stroke-width="0.45"/>
<path d="M314.97,115.90 L318.77,119.70 L314.97,123.50 L311.17,119.70 Z" fill="#fcd983" stroke="#776b5a" stroke-width="0.45"/>
<path d="M324.76,118.00 L326.46,119.70 L324.76,121.40 L323.06,119.70 Z" fill="#86192d" stroke="#776b5a" stroke-width="0.45"/>
<circle cx="373.71" cy="119.70" r="2.50" fill="#86192d" stroke="#776b5a" stroke-width="0.45"/>
<path d="M383.50,118.00 L385.20,119.70 L383.50,121.40 L381.80,119.70 Z" fill="#fcd983" stroke="#776b5a" stroke-width="0.45"/>
<path d="M393.29,118.00 L394.99,119.70 L393.29,121.40 L391.59,119.70 Z" fill="#86192d" stroke="#776b5a" stroke-width="0.45"/>
<path d="M412.87,118.10 L414.47,119.70 L412.87,121.30 L411.27,119.70 Z" fill="#86192d" stroke="#776b5a" stroke-width="0.45"/>
<circle cx="422.66" cy="119.70" r="2.50" fill="#86192d" stroke="#776b5a" stroke-width="0.45"/>
<circle cx="452.03" cy="119.70" r="2.45" fill="#e0292c" stroke="#000" stroke-width="1.1"/>
<path d="M461.82,118.10 L463.42,119.70 L461.82,121.30 L460.22,119.70 Z" fill="#86192d" stroke="#776b5a" stroke-width="0.45"/>
<path d="M540.14,118.10 L541.74,119.70 L540.14,121.30 L538.54,119.70 Z" fill="#86192d" stroke="#776b5a" stroke-width="0.45"/>
<circle cx="324.76" cy="128.60" r="1.40" fill="#ec6a30" stroke="#776b5a" stroke-width="0.45"/>
<circle cx="363.92" cy="128.60" r="1.30" fill="#ec6a30" stroke="#776b5a" stroke-width="0.45"/>
<circle cx="383.50" cy="128.60" r="1.30" fill="#fcd983" stroke="#776b5a" stroke-width="0.45"/>
<circle cx="393.29" cy="128.60" r="2.45" fill="#fcd983" stroke="#000" stroke-width="1.1"/>
<path d="M422.66,127.00 L424.26,128.60 L422.66,130.20 L421.06,128.60 Z" fill="#86192d" stroke="#776b5a" stroke-width="0.45"/>
<circle cx="452.03" cy="128.60" r="1.40" fill="#ec6a30" stroke="#776b5a" stroke-width="0.45"/>
<path d="M471.61,126.90 L473.31,128.60 L471.61,130.30 L469.91,128.60 Z" fill="#fcd983" stroke="#776b5a" stroke-width="0.45"/>
<circle cx="510.77" cy="128.60" r="1.40" fill="#fcd983" stroke="#776b5a" stroke-width="0.45"/>
<path d="M520.56,127.00 L522.16,128.60 L520.56,130.20 L518.96,128.60 Z" fill="#fcd983" stroke="#776b5a" stroke-width="0.45"/>
<circle cx="540.14" cy="128.60" r="1.40" fill="#fcd983" stroke="#776b5a" stroke-width="0.45"/>
<path d="M363.92,135.80 L365.62,137.50 L363.92,139.20 L362.22,137.50 Z" fill="#fcd983" stroke="#776b5a" stroke-width="0.45"/>
<circle cx="373.71" cy="137.50" r="2.50" fill="#86192d" stroke="#776b5a" stroke-width="0.45"/>
<circle cx="383.50" cy="137.50" r="1.50" fill="#86192d" stroke="#776b5a" stroke-width="0.45"/>
<path d="M403.08,135.90 L404.68,137.50 L403.08,139.10 L401.48,137.50 Z" fill="#86192d" stroke="#776b5a" stroke-width="0.45"/>
<path d="M412.87,135.80 L414.57,137.50 L412.87,139.20 L411.17,137.50 Z" fill="#fcd983" stroke="#776b5a" stroke-width="0.45"/>
<path d="M452.03,135.80 L453.73,137.50 L452.03,139.20 L450.33,137.50 Z" fill="#fcd983" stroke="#776b5a" stroke-width="0.45"/>
<circle cx="471.61" cy="137.50" r="2.25" fill="#86192d" stroke="#000" stroke-width="1.1"/>
<circle cx="510.77" cy="137.50" r="1.50" fill="#86192d" stroke="#776b5a" stroke-width="0.45"/>
<circle cx="520.56" cy="137.50" r="1.50" fill="#86192d" stroke="#776b5a" stroke-width="0.45"/>
<circle cx="540.14" cy="137.50" r="1.50" fill="#e0292c" stroke="#776b5a" stroke-width="0.45"/>
<circle cx="285.60" cy="146.40" r="5.15" fill="#e0292c" stroke="#000" stroke-width="1.1"/>
<circle cx="324.76" cy="146.40" r="1.20" fill="#86192d" stroke="#776b5a" stroke-width="0.45"/>
<circle cx="334.55" cy="146.40" r="3.45" fill="#86192d" stroke="#000" stroke-width="1.1"/>
<path d="M383.50,144.80 L385.10,146.40 L383.50,148.00 L381.90,146.40 Z" fill="#fcd983" stroke="#776b5a" stroke-width="0.45"/>
<path d="M452.03,144.70 L453.73,146.40 L452.03,148.10 L450.33,146.40 Z" fill="#fcd983" stroke="#776b5a" stroke-width="0.45"/>
<path d="M520.56,144.80 L522.16,146.40 L520.56,148.00 L518.96,146.40 Z" fill="#86192d" stroke="#776b5a" stroke-width="0.45"/>
<path d="M540.14,144.80 L541.74,146.40 L540.14,148.00 L538.54,146.40 Z" fill="#fcd983" stroke="#776b5a" stroke-width="0.45"/>
<circle cx="334.55" cy="155.30" r="3.45" fill="#e0292c" stroke="#000" stroke-width="1.1"/>
<path d="M383.50,153.60 L385.20,155.30 L383.50,157.00 L381.80,155.30 Z" fill="#fcd983" stroke="#776b5a" stroke-width="0.45"/>
<circle cx="412.87" cy="155.30" r="1.50" fill="#86192d" stroke="#776b5a" stroke-width="0.45"/>
<path d="M452.03,153.60 L453.73,155.30 L452.03,157.00 L450.33,155.30 Z" fill="#fcd983" stroke="#776b5a" stroke-width="0.45"/>
<circle cx="461.82" cy="155.30" r="2.50" fill="#ec6a30" stroke="#776b5a" stroke-width="0.45"/>
<path d="M471.61,153.60 L473.31,155.30 L471.61,157.00 L469.91,155.30 Z" fill="#fcd983" stroke="#776b5a" stroke-width="0.45"/>
<circle cx="500.98" cy="155.30" r="1.50" fill="#fcd983" stroke="#776b5a" stroke-width="0.45"/>
<path d="M510.77,153.70 L512.37,155.30 L510.77,156.90 L509.17,155.30 Z" fill="#86192d" stroke="#776b5a" stroke-width="0.45"/>
<circle cx="540.14" cy="155.30" r="1.40" fill="#f5a040" stroke="#776b5a" stroke-width="0.45"/>
<circle cx="324.76" cy="164.20" r="2.25" fill="#f28c38" stroke="#000" stroke-width="1.1"/>
<path d="M373.71,162.60 L375.31,164.20 L373.71,165.80 L372.11,164.20 Z" fill="#86192d" stroke="#776b5a" stroke-width="0.45"/>
<circle cx="383.50" cy="164.20" r="1.40" fill="#f5a040" stroke="#776b5a" stroke-width="0.45"/>
<path d="M452.03,162.50 L453.73,164.20 L452.03,165.90 L450.33,164.20 Z" fill="#fcd983" stroke="#776b5a" stroke-width="0.45"/>
<circle cx="491.19" cy="164.20" r="2.25" fill="#86192d" stroke="#000" stroke-width="1.1"/>
<circle cx="510.77" cy="164.20" r="1.40" fill="#ec6a30" stroke="#776b5a" stroke-width="0.45"/>
<circle cx="540.14" cy="164.20" r="1.40" fill="#e0292c" stroke="#776b5a" stroke-width="0.45"/>
<circle cx="363.92" cy="173.10" r="1.50" fill="#86192d" stroke="#776b5a" stroke-width="0.45"/>
<circle cx="373.71" cy="173.10" r="2.50" fill="#ec6a30" stroke="#776b5a" stroke-width="0.45"/>
<path d="M442.24,169.30 L446.04,173.10 L442.24,176.90 L438.44,173.10 Z" fill="#86192d" stroke="#776b5a" stroke-width="0.45"/>
<circle cx="452.03" cy="173.10" r="1.60" fill="#fcd983" stroke="#776b5a" stroke-width="0.45"/>
<path d="M471.61,171.40 L473.31,173.10 L471.61,174.80 L469.91,173.10 Z" fill="#fcd983" stroke="#776b5a" stroke-width="0.45"/>
<circle cx="500.98" cy="173.10" r="3.05" fill="#86192d" stroke="#000" stroke-width="1.1"/>
<circle cx="540.14" cy="173.10" r="1.40" fill="#ec6a30" stroke="#776b5a" stroke-width="0.45"/>
<circle cx="295.39" cy="182.00" r="3.45" fill="#86192d" stroke="#000" stroke-width="1.1"/>
<circle cx="334.55" cy="182.00" r="3.05" fill="#86192d" stroke="#000" stroke-width="1.1"/>
<path d="M471.61,180.30 L473.31,182.00 L471.61,183.70 L469.91,182.00 Z" fill="#fcd983" stroke="#776b5a" stroke-width="0.45"/>
<circle cx="540.14" cy="182.00" r="1.40" fill="#e0292c" stroke="#776b5a" stroke-width="0.45"/>
<path d="M295.39,187.90 L298.39,190.90 L295.39,193.90 L292.39,190.90 Z" fill="#fcd983" stroke="#776b5a" stroke-width="0.45"/>
<circle cx="314.97" cy="190.90" r="3.70" fill="#86192d" stroke="#776b5a" stroke-width="0.45"/>
<path d="M383.50,189.30 L385.10,190.90 L383.50,192.50 L381.90,190.90 Z" fill="#fcd983" stroke="#776b5a" stroke-width="0.45"/>
<path d="M432.45,189.30 L434.05,190.90 L432.45,192.50 L430.85,190.90 Z" fill="#86192d" stroke="#776b5a" stroke-width="0.45"/>
<circle cx="452.03" cy="190.90" r="1.40" fill="#e0292c" stroke="#776b5a" stroke-width="0.45"/>
<path d="M481.40,187.40 L484.90,190.90 L481.40,194.40 L477.90,190.90 Z" fill="#86192d" stroke="#776b5a" stroke-width="0.45"/>
<circle cx="510.77" cy="190.90" r="1.40" fill="#fcd983" stroke="#776b5a" stroke-width="0.45"/>
<circle cx="383.50" cy="199.80" r="1.40" fill="#ec6a30" stroke="#776b5a" stroke-width="0.45"/>
<circle cx="403.08" cy="199.80" r="2.75" fill="#ec6a30" stroke="#000" stroke-width="1.1"/>
<path d="M452.03,198.10 L453.73,199.80 L452.03,201.50 L450.33,199.80 Z" fill="#fcd983" stroke="#776b5a" stroke-width="0.45"/>
<path d="M471.61,198.10 L473.31,199.80 L471.61,201.50 L469.91,199.80 Z" fill="#fcd983" stroke="#776b5a" stroke-width="0.45"/>
<path d="M540.14,198.20 L541.74,199.80 L540.14,201.40 L538.54,199.80 Z" fill="#fcd983" stroke="#776b5a" stroke-width="0.45"/>
<path d="M344.34,205.40 L347.64,208.70 L344.34,212.00 L341.04,208.70 Z" fill="#fcd983" stroke="#776b5a" stroke-width="0.45"/>
<circle cx="373.71" cy="208.70" r="3.05" fill="#86192d" stroke="#000" stroke-width="1.1"/>
<path d="M422.66,207.00 L424.36,208.70 L422.66,210.40 L420.96,208.70 Z" fill="#86192d" stroke="#776b5a" stroke-width="0.45"/>
<circle cx="471.61" cy="208.70" r="1.45" fill="#86192d" stroke="#000" stroke-width="1.1"/>
<circle cx="540.14" cy="208.70" r="1.60" fill="#ec6a30" stroke="#776b5a" stroke-width="0.45"/>
<circle cx="295.39" cy="217.60" r="3.85" fill="#e0292c" stroke="#000" stroke-width="1.1"/>
<path d="M363.92,215.80 L365.72,217.60 L363.92,219.40 L362.12,217.60 Z" fill="#fcd983" stroke="#776b5a" stroke-width="0.45"/>
<path d="M383.50,215.80 L385.30,217.60 L383.50,219.40 L381.70,217.60 Z" fill="#fcd983" stroke="#776b5a" stroke-width="0.45"/>
<path d="M510.77,215.80 L512.57,217.60 L510.77,219.40 L508.97,217.60 Z" fill="#fcd983" stroke="#776b5a" stroke-width="0.45"/>
<path d="M452.03,224.80 L453.73,226.50 L452.03,228.20 L450.33,226.50 Z" fill="#86192d" stroke="#776b5a" stroke-width="0.45"/>
<circle cx="461.82" cy="226.50" r="2.25" fill="#ec6a30" stroke="#000" stroke-width="1.1"/>
<path d="M491.19,224.70 L492.99,226.50 L491.19,228.30 L489.39,226.50 Z" fill="#fcd983" stroke="#776b5a" stroke-width="0.45"/>
<circle cx="295.39" cy="235.40" r="3.70" fill="#86192d" stroke="#776b5a" stroke-width="0.45"/>
<path d="M305.18,233.70 L306.88,235.40 L305.18,237.10 L303.48,235.40 Z" fill="#fcd983" stroke="#776b5a" stroke-width="0.45"/>
<path d="M314.97,231.60 L318.77,235.40 L314.97,239.20 L311.17,235.40 Z" fill="#fcd983" stroke="#776b5a" stroke-width="0.45"/>
<path d="M324.76,233.70 L326.46,235.40 L324.76,237.10 L323.06,235.40 Z" fill="#fcd983" stroke="#776b5a" stroke-width="0.45"/>
<path d="M344.34,232.10 L347.64,235.40 L344.34,238.70 L341.04,235.40 Z" fill="#fcd983" stroke="#776b5a" stroke-width="0.45"/>
<circle cx="363.92" cy="235.40" r="1.60" fill="#fcd983" stroke="#776b5a" stroke-width="0.45"/>
<circle cx="383.50" cy="235.40" r="1.60" fill="#f5a040" stroke="#776b5a" stroke-width="0.45"/>
<path d="M393.29,233.60 L395.09,235.40 L393.29,237.20 L391.49,235.40 Z" fill="#fcd983" stroke="#776b5a" stroke-width="0.45"/>
<circle cx="403.08" cy="235.40" r="1.60" fill="#fcd983" stroke="#776b5a" stroke-width="0.45"/>
<circle cx="422.66" cy="235.40" r="2.50" fill="#f5a040" stroke="#776b5a" stroke-width="0.45"/>
<circle cx="432.45" cy="235.40" r="3.20" fill="#f5a040" stroke="#776b5a" stroke-width="0.45"/>
<circle cx="442.24" cy="235.40" r="3.80" fill="#e0292c" stroke="#776b5a" stroke-width="0.45"/>
<circle cx="452.03" cy="235.40" r="1.60" fill="#f5a040" stroke="#776b5a" stroke-width="0.45"/>
<circle cx="471.61" cy="235.40" r="1.50" fill="#ec6a30" stroke="#776b5a" stroke-width="0.45"/>
<circle cx="491.19" cy="235.40" r="2.60" fill="#ec6a30" stroke="#776b5a" stroke-width="0.45"/>
<circle cx="510.77" cy="235.40" r="1.60" fill="#fcd983" stroke="#776b5a" stroke-width="0.45"/>
<circle cx="520.56" cy="235.40" r="2.60" fill="#f5a040" stroke="#776b5a" stroke-width="0.45"/>
<circle cx="540.14" cy="235.40" r="1.60" fill="#c8202f" stroke="#776b5a" stroke-width="0.45"/>
<path d="M295.39,254.30 L298.59,257.50 L295.39,260.70 L292.19,257.50 Z" fill="#86192d" stroke="#776b5a" stroke-width="0.45"/>
<circle cx="305.18" cy="257.50" r="2.50" fill="#f5a040" stroke="#776b5a" stroke-width="0.45"/>
<path d="M314.97,253.70 L318.77,257.50 L314.97,261.30 L311.17,257.50 Z" fill="#fcd983" stroke="#776b5a" stroke-width="0.45"/>
<circle cx="324.76" cy="257.50" r="3.20" fill="#f28c38" stroke="#776b5a" stroke-width="0.45"/>
<path d="M334.55,255.80 L336.25,257.50 L334.55,259.20 L332.85,257.50 Z" fill="#86192d" stroke="#776b5a" stroke-width="0.45"/>
<circle cx="363.92" cy="257.50" r="3.10" fill="#f8b04a" stroke="#776b5a" stroke-width="0.45"/>
<circle cx="373.71" cy="257.50" r="2.60" fill="#fcd983" stroke="#776b5a" stroke-width="0.45"/>
<circle cx="383.50" cy="257.50" r="3.05" fill="#b51f2e" stroke="#000" stroke-width="1.1"/>
<circle cx="393.29" cy="257.50" r="2.60" fill="#fcd983" stroke="#776b5a" stroke-width="0.45"/>
<circle cx="403.08" cy="257.50" r="1.40" fill="#ec6a30" stroke="#776b5a" stroke-width="0.45"/>
<circle cx="412.87" cy="257.50" r="2.60" fill="#fcd983" stroke="#776b5a" stroke-width="0.45"/>
<circle cx="422.66" cy="257.50" r="2.60" fill="#ec6a30" stroke="#776b5a" stroke-width="0.45"/>
<circle cx="432.45" cy="257.50" r="2.60" fill="#fcd983" stroke="#776b5a" stroke-width="0.45"/>
<circle cx="442.24" cy="257.50" r="3.80" fill="#fcd983" stroke="#776b5a" stroke-width="0.45"/>
<circle cx="452.03" cy="257.50" r="2.60" fill="#e8502a" stroke="#776b5a" stroke-width="0.45"/>
<circle cx="461.82" cy="257.50" r="2.60" fill="#ec6a30" stroke="#776b5a" stroke-width="0.45"/>
<circle cx="471.61" cy="257.50" r="3.10" fill="#fbc45c" stroke="#776b5a" stroke-width="0.45"/>
<circle cx="491.19" cy="257.50" r="3.10" fill="#ec6a30" stroke="#776b5a" stroke-width="0.45"/>
<circle cx="500.98" cy="257.50" r="3.70" fill="#ec6a30" stroke="#776b5a" stroke-width="0.45"/>
<circle cx="510.77" cy="257.50" r="3.10" fill="#f28c38" stroke="#776b5a" stroke-width="0.45"/>
<circle cx="520.56" cy="257.50" r="2.60" fill="#fcd983" stroke="#776b5a" stroke-width="0.45"/>
<circle cx="530.35" cy="257.50" r="3.10" fill="#e8502a" stroke="#776b5a" stroke-width="0.45"/>
<circle cx="540.14" cy="257.50" r="3.10" fill="#f8b04a" stroke="#776b5a" stroke-width="0.45"/>
<circle cx="305.18" cy="268.30" r="2.50" fill="#f5a040" stroke="#776b5a" stroke-width="0.45"/>
<circle cx="314.97" cy="268.30" r="3.80" fill="#86192d" stroke="#776b5a" stroke-width="0.45"/>
<circle cx="324.76" cy="268.30" r="2.85" fill="#86192d" stroke="#000" stroke-width="1.1"/>
<path d="M344.34,265.00 L347.64,268.30 L344.34,271.60 L341.04,268.30 Z" fill="#fcd983" stroke="#776b5a" stroke-width="0.45"/>
<circle cx="354.13" cy="268.30" r="4.05" fill="#b51f2e" stroke="#000" stroke-width="1.1"/>
<circle cx="363.92" cy="268.30" r="2.85" fill="#b51f2e" stroke="#000" stroke-width="1.1"/>
<circle cx="383.50" cy="268.30" r="3.05" fill="#86192d" stroke="#000" stroke-width="1.1"/>
<circle cx="393.29" cy="268.30" r="2.60" fill="#86192d" stroke="#776b5a" stroke-width="0.45"/>
<circle cx="403.08" cy="268.30" r="3.10" fill="#e8502a" stroke="#776b5a" stroke-width="0.45"/>
<circle cx="412.87" cy="268.30" r="1.60" fill="#fcd983" stroke="#776b5a" stroke-width="0.45"/>
<circle cx="422.66" cy="268.30" r="2.60" fill="#e0292c" stroke="#776b5a" stroke-width="0.45"/>
<path d="M432.45,266.50 L434.25,268.30 L432.45,270.10 L430.65,268.30 Z" fill="#fcd983" stroke="#776b5a" stroke-width="0.45"/>
<circle cx="452.03" cy="268.30" r="2.60" fill="#ec6a30" stroke="#776b5a" stroke-width="0.45"/>
<path d="M471.61,266.60 L473.31,268.30 L471.61,270.00 L469.91,268.30 Z" fill="#86192d" stroke="#776b5a" stroke-width="0.45"/>
<path d="M491.19,266.60 L492.89,268.30 L491.19,270.00 L489.49,268.30 Z" fill="#86192d" stroke="#776b5a" stroke-width="0.45"/>
<path d="M500.98,266.60 L502.68,268.30 L500.98,270.00 L499.28,268.30 Z" fill="#fcd983" stroke="#776b5a" stroke-width="0.45"/>
<circle cx="510.77" cy="268.30" r="1.50" fill="#e0292c" stroke="#776b5a" stroke-width="0.45"/>
<circle cx="520.56" cy="268.30" r="1.50" fill="#ec6a30" stroke="#776b5a" stroke-width="0.45"/>
<circle cx="530.35" cy="268.30" r="3.10" fill="#fcd983" stroke="#776b5a" stroke-width="0.45"/>
<circle cx="540.14" cy="268.30" r="2.50" fill="#f5a040" stroke="#776b5a" stroke-width="0.45"/>
<path d="M305.18,277.30 L306.98,279.10 L305.18,280.90 L303.38,279.10 Z" fill="#fcd983" stroke="#776b5a" stroke-width="0.45"/>
<circle cx="324.76" cy="279.10" r="1.60" fill="#fcd983" stroke="#776b5a" stroke-width="0.45"/>
<circle cx="363.92" cy="279.10" r="1.40" fill="#ec6a30" stroke="#776b5a" stroke-width="0.45"/>
<circle cx="383.50" cy="279.10" r="1.50" fill="#fcd983" stroke="#776b5a" stroke-width="0.45"/>
<circle cx="412.87" cy="279.10" r="2.50" fill="#fcd983" stroke="#776b5a" stroke-width="0.45"/>
<path d="M422.66,277.40 L424.36,279.10 L422.66,280.80 L420.96,279.10 Z" fill="#86192d" stroke="#776b5a" stroke-width="0.45"/>
<path d="M432.45,277.40 L434.15,279.10 L432.45,280.80 L430.75,279.10 Z" fill="#86192d" stroke="#776b5a" stroke-width="0.45"/>
<path d="M452.03,277.40 L453.73,279.10 L452.03,280.80 L450.33,279.10 Z" fill="#fcd983" stroke="#776b5a" stroke-width="0.45"/>
<path d="M461.82,277.40 L463.52,279.10 L461.82,280.80 L460.12,279.10 Z" fill="#fcd983" stroke="#776b5a" stroke-width="0.45"/>
<path d="M471.61,277.40 L473.31,279.10 L471.61,280.80 L469.91,279.10 Z" fill="#86192d" stroke="#776b5a" stroke-width="0.45"/>
<circle cx="510.77" cy="279.10" r="1.50" fill="#f8b04a" stroke="#776b5a" stroke-width="0.45"/>
<circle cx="520.56" cy="279.10" r="2.45" fill="#fcd983" stroke="#000" stroke-width="1.1"/>
<circle cx="540.14" cy="279.10" r="1.50" fill="#fcd983" stroke="#776b5a" stroke-width="0.45"/>
<circle cx="324.76" cy="289.90" r="2.25" fill="#fcd983" stroke="#000" stroke-width="1.1"/>
<path d="M334.55,288.20 L336.25,289.90 L334.55,291.60 L332.85,289.90 Z" fill="#fcd983" stroke="#776b5a" stroke-width="0.45"/>
<circle cx="363.92" cy="289.90" r="1.60" fill="#fcd983" stroke="#776b5a" stroke-width="0.45"/>
<circle cx="383.50" cy="289.90" r="1.50" fill="#fcd983" stroke="#776b5a" stroke-width="0.45"/>
<circle cx="422.66" cy="289.90" r="1.60" fill="#fcd983" stroke="#776b5a" stroke-width="0.45"/>
<path d="M452.03,288.20 L453.73,289.90 L452.03,291.60 L450.33,289.90 Z" fill="#fcd983" stroke="#776b5a" stroke-width="0.45"/>
<path d="M461.82,288.20 L463.52,289.90 L461.82,291.60 L460.12,289.90 Z" fill="#fcd983" stroke="#776b5a" stroke-width="0.45"/>
<circle cx="471.61" cy="289.90" r="1.50" fill="#fcd983" stroke="#776b5a" stroke-width="0.45"/>
<circle cx="510.77" cy="289.90" r="1.50" fill="#f5a040" stroke="#776b5a" stroke-width="0.45"/>
<path d="M540.14,288.20 L541.84,289.90 L540.14,291.60 L538.44,289.90 Z" fill="#fcd983" stroke="#776b5a" stroke-width="0.45"/>
<circle cx="305.18" cy="300.70" r="2.25" fill="#b51f2e" stroke="#000" stroke-width="1.1"/>
<path d="M324.76,299.20 L326.26,300.70 L324.76,302.20 L323.26,300.70 Z" fill="#86192d" stroke="#776b5a" stroke-width="0.45"/>
<circle cx="383.50" cy="300.70" r="1.50" fill="#86192d" stroke="#776b5a" stroke-width="0.45"/>
<path d="M432.45,299.00 L434.15,300.70 L432.45,302.40 L430.75,300.70 Z" fill="#fcd983" stroke="#776b5a" stroke-width="0.45"/>
<circle cx="452.03" cy="300.70" r="1.50" fill="#86192d" stroke="#776b5a" stroke-width="0.45"/>
<path d="M471.61,299.00 L473.31,300.70 L471.61,302.40 L469.91,300.70 Z" fill="#fcd983" stroke="#776b5a" stroke-width="0.45"/>
<circle cx="500.98" cy="300.70" r="1.60" fill="#fcd983" stroke="#776b5a" stroke-width="0.45"/>
<circle cx="510.77" cy="300.70" r="1.60" fill="#fcd983" stroke="#776b5a" stroke-width="0.45"/>
<path d="M520.56,299.00 L522.26,300.70 L520.56,302.40 L518.86,300.70 Z" fill="#fcd983" stroke="#776b5a" stroke-width="0.45"/>
<path d="M530.35,297.70 L533.35,300.70 L530.35,303.70 L527.35,300.70 Z" fill="#fcd983" stroke="#776b5a" stroke-width="0.45"/>
<path d="M305.18,309.90 L306.78,311.50 L305.18,313.10 L303.58,311.50 Z" fill="#86192d" stroke="#776b5a" stroke-width="0.45"/>
<circle cx="363.92" cy="311.50" r="1.40" fill="#e0292c" stroke="#776b5a" stroke-width="0.45"/>
<path d="M373.71,309.80 L375.41,311.50 L373.71,313.20 L372.01,311.50 Z" fill="#fcd983" stroke="#776b5a" stroke-width="0.45"/>
<circle cx="383.50" cy="311.50" r="1.50" fill="#f5a040" stroke="#776b5a" stroke-width="0.45"/>
<circle cx="412.87" cy="311.50" r="1.50" fill="#86192d" stroke="#776b5a" stroke-width="0.45"/>
<path d="M432.45,309.80 L434.15,311.50 L432.45,313.20 L430.75,311.50 Z" fill="#fcd983" stroke="#776b5a" stroke-width="0.45"/>
<path d="M442.24,307.70 L446.04,311.50 L442.24,315.30 L438.44,311.50 Z" fill="#fcd983" stroke="#776b5a" stroke-width="0.45"/>
<circle cx="452.03" cy="311.50" r="1.50" fill="#f8b04a" stroke="#776b5a" stroke-width="0.45"/>
<path d="M461.82,309.80 L463.52,311.50 L461.82,313.20 L460.12,311.50 Z" fill="#fcd983" stroke="#776b5a" stroke-width="0.45"/>
<path d="M471.61,309.80 L473.31,311.50 L471.61,313.20 L469.91,311.50 Z" fill="#fcd983" stroke="#776b5a" stroke-width="0.45"/>
<circle cx="510.77" cy="311.50" r="1.50" fill="#ec6a30" stroke="#776b5a" stroke-width="0.45"/>
<circle cx="520.56" cy="311.50" r="1.50" fill="#fcd983" stroke="#776b5a" stroke-width="0.45"/>
<path d="M530.35,308.50 L533.35,311.50 L530.35,314.50 L527.35,311.50 Z" fill="#fcd983" stroke="#776b5a" stroke-width="0.45"/>
<circle cx="540.14" cy="311.50" r="1.50" fill="#fcd983" stroke="#776b5a" stroke-width="0.45"/>
<path d="M285.60,330.20 L289.80,334.40 L285.60,338.60 L281.40,334.40 Z" fill="#fcd983" stroke="#776b5a" stroke-width="0.45"/>
<path d="M295.39,331.40 L298.39,334.40 L295.39,337.40 L292.39,334.40 Z" fill="#fcd983" stroke="#776b5a" stroke-width="0.45"/>
<circle cx="305.18" cy="334.40" r="3.60" fill="#f5a040" stroke="#776b5a" stroke-width="0.45"/>
<circle cx="314.97" cy="334.40" r="3.60" fill="#fcd983" stroke="#776b5a" stroke-width="0.45"/>
<circle cx="324.76" cy="334.40" r="3.60" fill="#fbc45c" stroke="#776b5a" stroke-width="0.45"/>
<path d="M334.55,332.80 L336.15,334.40 L334.55,336.00 L332.95,334.40 Z" fill="#fcd983" stroke="#776b5a" stroke-width="0.45"/>
<circle cx="344.34" cy="334.40" r="3.60" fill="#ec6a30" stroke="#776b5a" stroke-width="0.45"/>
<path d="M354.13,330.10 L358.43,334.40 L354.13,338.70 L349.83,334.40 Z" fill="#fcd983" stroke="#776b5a" stroke-width="0.45"/>
<circle cx="363.92" cy="334.40" r="3.00" fill="#ec6a30" stroke="#776b5a" stroke-width="0.45"/>
<path d="M373.71,332.90 L375.21,334.40 L373.71,335.90 L372.21,334.40 Z" fill="#fcd983" stroke="#776b5a" stroke-width="0.45"/>
<circle cx="383.50" cy="334.40" r="3.00" fill="#f5a040" stroke="#776b5a" stroke-width="0.45"/>
<circle cx="393.29" cy="334.40" r="3.00" fill="#fcd983" stroke="#776b5a" stroke-width="0.45"/>
<circle cx="403.08" cy="334.40" r="3.00" fill="#ec6a30" stroke="#776b5a" stroke-width="0.45"/>
<circle cx="412.87" cy="334.40" r="3.10" fill="#e0292c" stroke="#776b5a" stroke-width="0.45"/>
<circle cx="422.66" cy="334.40" r="3.40" fill="#ec6a30" stroke="#776b5a" stroke-width="0.45"/>
<path d="M432.45,332.90 L433.95,334.40 L432.45,335.90 L430.95,334.40 Z" fill="#86192d" stroke="#776b5a" stroke-width="0.45"/>
<circle cx="442.24" cy="334.40" r="3.50" fill="#fcd983" stroke="#776b5a" stroke-width="0.45"/>
<circle cx="452.03" cy="334.40" r="3.10" fill="#86192d" stroke="#776b5a" stroke-width="0.45"/>
<circle cx="461.82" cy="334.40" r="3.50" fill="#fcd983" stroke="#776b5a" stroke-width="0.45"/>
<circle cx="471.61" cy="334.40" r="3.50" fill="#f8b04a" stroke="#776b5a" stroke-width="0.45"/>
<path d="M481.40,330.60 L485.20,334.40 L481.40,338.20 L477.60,334.40 Z" fill="#86192d" stroke="#776b5a" stroke-width="0.45"/>
<circle cx="491.19" cy="334.40" r="3.50" fill="#f8b04a" stroke="#776b5a" stroke-width="0.45"/>
<circle cx="500.98" cy="334.40" r="3.50" fill="#f5a040" stroke="#776b5a" stroke-width="0.45"/>
<circle cx="510.77" cy="334.40" r="3.00" fill="#f8b04a" stroke="#776b5a" stroke-width="0.45"/>
<circle cx="520.56" cy="334.40" r="3.00" fill="#fbc45c" stroke="#776b5a" stroke-width="0.45"/>
<circle cx="530.35" cy="334.40" r="3.50" fill="#f5a040" stroke="#776b5a" stroke-width="0.45"/>
<circle cx="540.14" cy="334.40" r="3.10" fill="#f5a040" stroke="#776b5a" stroke-width="0.45"/>
<circle cx="285.60" cy="343.30" r="4.30" fill="#fcd983" stroke="#776b5a" stroke-width="0.45"/>
<circle cx="295.39" cy="343.30" r="3.00" fill="#fcd983" stroke="#776b5a" stroke-width="0.45"/>
<circle cx="305.18" cy="343.30" r="2.50" fill="#e0292c" stroke="#776b5a" stroke-width="0.45"/>
<circle cx="324.76" cy="343.30" r="3.00" fill="#f5a040" stroke="#776b5a" stroke-width="0.45"/>
<circle cx="334.55" cy="343.30" r="3.20" fill="#fcd983" stroke="#776b5a" stroke-width="0.45"/>
<circle cx="344.34" cy="343.30" r="3.20" fill="#fcd983" stroke="#776b5a" stroke-width="0.45"/>
<circle cx="354.13" cy="343.30" r="3.60" fill="#fcd983" stroke="#776b5a" stroke-width="0.45"/>
<circle cx="363.92" cy="343.30" r="3.00" fill="#fcd983" stroke="#776b5a" stroke-width="0.45"/>
<circle cx="373.71" cy="343.30" r="2.60" fill="#fcd983" stroke="#776b5a" stroke-width="0.45"/>
<circle cx="383.50" cy="343.30" r="3.00" fill="#f5a040" stroke="#776b5a" stroke-width="0.45"/>
<circle cx="393.29" cy="343.30" r="3.60" fill="#f28c38" stroke="#776b5a" stroke-width="0.45"/>
<circle cx="403.08" cy="343.30" r="3.20" fill="#e0292c" stroke="#776b5a" stroke-width="0.45"/>
<circle cx="412.87" cy="343.30" r="3.00" fill="#fcd983" stroke="#776b5a" stroke-width="0.45"/>
<circle cx="422.66" cy="343.30" r="3.00" fill="#f8b04a" stroke="#776b5a" stroke-width="0.45"/>
<circle cx="432.45" cy="343.30" r="3.00" fill="#fcd983" stroke="#776b5a" stroke-width="0.45"/>
<path d="M442.24,339.50 L446.04,343.30 L442.24,347.10 L438.44,343.30 Z" fill="#fcd983" stroke="#776b5a" stroke-width="0.45"/>
<circle cx="452.03" cy="343.30" r="3.00" fill="#f5a040" stroke="#776b5a" stroke-width="0.45"/>
<circle cx="461.82" cy="343.30" r="2.40" fill="#e0292c" stroke="#776b5a" stroke-width="0.45"/>
<circle cx="471.61" cy="343.30" r="3.00" fill="#f8b04a" stroke="#776b5a" stroke-width="0.45"/>
<circle cx="491.19" cy="343.30" r="3.00" fill="#f28c38" stroke="#776b5a" stroke-width="0.45"/>
<circle cx="500.98" cy="343.30" r="3.50" fill="#ec6a30" stroke="#776b5a" stroke-width="0.45"/>
<circle cx="510.77" cy="343.30" r="3.00" fill="#f8b04a" stroke="#776b5a" stroke-width="0.45"/>
<circle cx="520.56" cy="343.30" r="3.50" fill="#fbc45c" stroke="#776b5a" stroke-width="0.45"/>
<path d="M530.35,340.80 L532.85,343.30 L530.35,345.80 L527.85,343.30 Z" fill="#fcd983" stroke="#776b5a" stroke-width="0.45"/>
<circle cx="540.14" cy="343.30" r="3.10" fill="#ec6a30" stroke="#776b5a" stroke-width="0.45"/>
<circle cx="305.18" cy="366.50" r="2.50" fill="#e8502a" stroke="#776b5a" stroke-width="0.45"/>
<circle cx="324.76" cy="366.50" r="2.50" fill="#e8502a" stroke="#776b5a" stroke-width="0.45"/>
<path d="M334.55,364.70 L336.35,366.50 L334.55,368.30 L332.75,366.50 Z" fill="#fcd983" stroke="#776b5a" stroke-width="0.45"/>
<path d="M344.34,363.40 L347.44,366.50 L344.34,369.60 L341.24,366.50 Z" fill="#fcd983" stroke="#776b5a" stroke-width="0.45"/>
<circle cx="363.92" cy="366.50" r="2.60" fill="#fcd983" stroke="#776b5a" stroke-width="0.45"/>
<circle cx="373.71" cy="366.50" r="3.10" fill="#fcd983" stroke="#776b5a" stroke-width="0.45"/>
<circle cx="383.50" cy="366.50" r="2.50" fill="#f8b04a" stroke="#776b5a" stroke-width="0.45"/>
<circle cx="403.08" cy="366.50" r="2.50" fill="#fcd983" stroke="#776b5a" stroke-width="0.45"/>
<circle cx="412.87" cy="366.50" r="1.50" fill="#e0292c" stroke="#776b5a" stroke-width="0.45"/>
<circle cx="422.66" cy="366.50" r="2.50" fill="#fcd983" stroke="#776b5a" stroke-width="0.45"/>
<circle cx="432.45" cy="366.50" r="3.10" fill="#fcd983" stroke="#776b5a" stroke-width="0.45"/>
<circle cx="452.03" cy="366.50" r="1.40" fill="#ec6a30" stroke="#776b5a" stroke-width="0.45"/>
<circle cx="461.82" cy="366.50" r="2.50" fill="#e0292c" stroke="#776b5a" stroke-width="0.45"/>
<circle cx="471.61" cy="366.50" r="1.40" fill="#ec6a30" stroke="#776b5a" stroke-width="0.45"/>
<circle cx="491.19" cy="366.50" r="2.60" fill="#e0292c" stroke="#776b5a" stroke-width="0.45"/>
<path d="M500.98,364.90 L502.58,366.50 L500.98,368.10 L499.38,366.50 Z" fill="#fcd983" stroke="#776b5a" stroke-width="0.45"/>
<circle cx="510.77" cy="366.50" r="2.25" fill="#f28c38" stroke="#000" stroke-width="1.1"/>
<circle cx="520.56" cy="366.50" r="1.50" fill="#ec6a30" stroke="#776b5a" stroke-width="0.45"/>
<circle cx="540.14" cy="366.50" r="1.50" fill="#ec6a30" stroke="#776b5a" stroke-width="0.45"/>
<circle cx="305.18" cy="377.58" r="2.40" fill="#fcd983" stroke="#776b5a" stroke-width="0.45"/>
<circle cx="324.76" cy="377.58" r="2.50" fill="#fcd983" stroke="#776b5a" stroke-width="0.45"/>
<path d="M334.55,375.78 L336.35,377.58 L334.55,379.38 L332.75,377.58 Z" fill="#fcd983" stroke="#776b5a" stroke-width="0.45"/>
<circle cx="363.92" cy="377.58" r="2.60" fill="#fcd983" stroke="#776b5a" stroke-width="0.45"/>
<circle cx="373.71" cy="377.58" r="3.10" fill="#fcd983" stroke="#776b5a" stroke-width="0.45"/>
<circle cx="383.50" cy="377.58" r="1.40" fill="#f8b04a" stroke="#776b5a" stroke-width="0.45"/>
<circle cx="403.08" cy="377.58" r="1.50" fill="#fcd983" stroke="#776b5a" stroke-width="0.45"/>
<circle cx="412.87" cy="377.58" r="2.50" fill="#fcd983" stroke="#776b5a" stroke-width="0.45"/>
<circle cx="432.45" cy="377.58" r="2.50" fill="#fcd983" stroke="#776b5a" stroke-width="0.45"/>
<circle cx="442.24" cy="377.58" r="3.45" fill="#86192d" stroke="#000" stroke-width="1.1"/>
<circle cx="452.03" cy="377.58" r="2.50" fill="#fcd983" stroke="#776b5a" stroke-width="0.45"/>
<circle cx="471.61" cy="377.58" r="2.50" fill="#fcd983" stroke="#776b5a" stroke-width="0.45"/>
<circle cx="491.19" cy="377.58" r="3.10" fill="#fcd983" stroke="#776b5a" stroke-width="0.45"/>
<path d="M500.98,375.98 L502.58,377.58 L500.98,379.18 L499.38,377.58 Z" fill="#86192d" stroke="#776b5a" stroke-width="0.45"/>
<circle cx="510.77" cy="377.58" r="2.50" fill="#fbc45c" stroke="#776b5a" stroke-width="0.45"/>
<circle cx="520.56" cy="377.58" r="2.50" fill="#fcd983" stroke="#776b5a" stroke-width="0.45"/>
<circle cx="540.14" cy="377.58" r="1.50" fill="#ec6a30" stroke="#776b5a" stroke-width="0.45"/>
<circle cx="334.55" cy="388.66" r="2.65" fill="#fcd983" stroke="#000" stroke-width="1.1"/>
<circle cx="363.92" cy="388.66" r="1.60" fill="#fcd983" stroke="#776b5a" stroke-width="0.45"/>
<circle cx="373.71" cy="388.66" r="2.60" fill="#fcd983" stroke="#776b5a" stroke-width="0.45"/>
<circle cx="383.50" cy="388.66" r="1.40" fill="#f5a040" stroke="#776b5a" stroke-width="0.45"/>
<path d="M403.08,386.96 L404.78,388.66 L403.08,390.36 L401.38,388.66 Z" fill="#fcd983" stroke="#776b5a" stroke-width="0.45"/>
<circle cx="452.03" cy="388.66" r="1.60" fill="#fcd983" stroke="#776b5a" stroke-width="0.45"/>
<circle cx="500.98" cy="388.66" r="1.60" fill="#fcd983" stroke="#776b5a" stroke-width="0.45"/>
<circle cx="510.77" cy="388.66" r="1.50" fill="#fcd983" stroke="#776b5a" stroke-width="0.45"/>
<path d="M520.56,386.96 L522.26,388.66 L520.56,390.36 L518.86,388.66 Z" fill="#fcd983" stroke="#776b5a" stroke-width="0.45"/>
<circle cx="540.14" cy="388.66" r="1.50" fill="#f5a040" stroke="#776b5a" stroke-width="0.45"/>
<path d="M324.76,397.94 L326.56,399.74 L324.76,401.54 L322.96,399.74 Z" fill="#fcd983" stroke="#776b5a" stroke-width="0.45"/>
<path d="M373.71,398.04 L375.41,399.74 L373.71,401.44 L372.01,399.74 Z" fill="#fcd983" stroke="#776b5a" stroke-width="0.45"/>
<circle cx="383.50" cy="399.74" r="1.50" fill="#fcd983" stroke="#776b5a" stroke-width="0.45"/>
<circle cx="422.66" cy="399.74" r="2.25" fill="#86192d" stroke="#000" stroke-width="1.1"/>
<circle cx="432.45" cy="399.74" r="2.50" fill="#fcd983" stroke="#776b5a" stroke-width="0.45"/>
<path d="M471.61,398.04 L473.31,399.74 L471.61,401.44 L469.91,399.74 Z" fill="#fcd983" stroke="#776b5a" stroke-width="0.45"/>
<circle cx="383.50" cy="410.82" r="1.65" fill="#fcd983" stroke="#000" stroke-width="1.1"/>
<path d="M403.08,409.12 L404.78,410.82 L403.08,412.52 L401.38,410.82 Z" fill="#fcd983" stroke="#776b5a" stroke-width="0.45"/>
<path d="M422.66,409.12 L424.36,410.82 L422.66,412.52 L420.96,410.82 Z" fill="#fcd983" stroke="#776b5a" stroke-width="0.45"/>
<path d="M491.19,409.12 L492.89,410.82 L491.19,412.52 L489.49,410.82 Z" fill="#fcd983" stroke="#776b5a" stroke-width="0.45"/>
<circle cx="285.60" cy="421.90" r="4.60" fill="#fcd983" stroke="#776b5a" stroke-width="0.45"/>
<circle cx="295.39" cy="421.90" r="3.70" fill="#f28c38" stroke="#776b5a" stroke-width="0.45"/>
<circle cx="305.18" cy="421.90" r="4.30" fill="#f5a040" stroke="#776b5a" stroke-width="0.45"/>
<circle cx="314.97" cy="421.90" r="4.30" fill="#fcd983" stroke="#776b5a" stroke-width="0.45"/>
<circle cx="324.76" cy="421.90" r="4.30" fill="#e8502a" stroke="#776b5a" stroke-width="0.45"/>
<circle cx="334.55" cy="421.90" r="4.30" fill="#fbc45c" stroke="#776b5a" stroke-width="0.45"/>
<circle cx="344.34" cy="421.90" r="4.70" fill="#fbc45c" stroke="#776b5a" stroke-width="0.45"/>
<circle cx="354.13" cy="421.90" r="4.40" fill="#fcd983" stroke="#776b5a" stroke-width="0.45"/>
<circle cx="363.92" cy="421.90" r="4.30" fill="#f5a040" stroke="#776b5a" stroke-width="0.45"/>
<circle cx="373.71" cy="421.90" r="4.30" fill="#e8502a" stroke="#776b5a" stroke-width="0.45"/>
<circle cx="383.50" cy="421.90" r="4.30" fill="#f5a040" stroke="#776b5a" stroke-width="0.45"/>
<circle cx="393.29" cy="421.90" r="4.30" fill="#e8502a" stroke="#776b5a" stroke-width="0.45"/>
<circle cx="403.08" cy="421.90" r="4.30" fill="#f8b04a" stroke="#776b5a" stroke-width="0.45"/>
<circle cx="412.87" cy="421.90" r="4.30" fill="#f5a040" stroke="#776b5a" stroke-width="0.45"/>
<circle cx="422.66" cy="421.90" r="4.30" fill="#f5a040" stroke="#776b5a" stroke-width="0.45"/>
<circle cx="432.45" cy="421.90" r="3.60" fill="#f8b04a" stroke="#776b5a" stroke-width="0.45"/>
<circle cx="442.24" cy="421.90" r="4.50" fill="#fcd983" stroke="#776b5a" stroke-width="0.45"/>
<circle cx="452.03" cy="421.90" r="4.30" fill="#f5a040" stroke="#776b5a" stroke-width="0.45"/>
<circle cx="461.82" cy="421.90" r="4.30" fill="#ec6a30" stroke="#776b5a" stroke-width="0.45"/>
<circle cx="471.61" cy="421.90" r="4.30" fill="#fcd983" stroke="#776b5a" stroke-width="0.45"/>
<circle cx="481.40" cy="421.90" r="4.30" fill="#f28c38" stroke="#776b5a" stroke-width="0.45"/>
<circle cx="491.19" cy="421.90" r="4.30" fill="#f5a040" stroke="#776b5a" stroke-width="0.45"/>
<circle cx="500.98" cy="421.90" r="4.30" fill="#fcd983" stroke="#776b5a" stroke-width="0.45"/>
<circle cx="510.77" cy="421.90" r="4.30" fill="#f5a040" stroke="#776b5a" stroke-width="0.45"/>
<circle cx="520.56" cy="421.90" r="4.30" fill="#f8b04a" stroke="#776b5a" stroke-width="0.45"/>
<circle cx="530.35" cy="421.90" r="4.30" fill="#f5a040" stroke="#776b5a" stroke-width="0.45"/>
<circle cx="540.14" cy="421.90" r="4.30" fill="#f5a040" stroke="#776b5a" stroke-width="0.45"/>
<line x1="555.5" y1="56.9" x2="555.5" y2="431.2" stroke="#8a8a8a" stroke-width="0.8"/>
<polyline points="555.5,56.9 585.3,56.9 586.8,55.6 588.3,58.4 589.6,56.9 625.7,56.9" stroke="#8a8a8a" stroke-width="0.8" fill="none"/>
<line x1="555.5" y1="55.0" x2="555.5" y2="56.9" stroke="#8a8a8a" stroke-width="0.8"/>
<line x1="569.6" y1="55.0" x2="569.6" y2="56.9" stroke="#8a8a8a" stroke-width="0.8"/>
<line x1="602.7" y1="55.0" x2="602.7" y2="56.9" stroke="#8a8a8a" stroke-width="0.8"/>
<line x1="625.7" y1="55.0" x2="625.7" y2="56.9" stroke="#8a8a8a" stroke-width="0.8"/>
<text x="556.00" y="50.20" font-size="8.3" text-anchor="middle">0</text>
<text x="569.40" y="50.20" font-size="8.3" text-anchor="middle">0.3</text>
<text x="587.10" y="50.20" font-size="8.3" text-anchor="middle">0.6</text>
<text x="602.30" y="50.20" font-size="8.3" text-anchor="middle">1.0</text>
<text x="625.20" y="50.20" font-size="8.3" text-anchor="middle">2.0</text>
<text x="550.80" y="36.00" font-size="8.7" text-anchor="start">Percentage of cohort</text>
<rect x="555.9" y="62.90" width="29.10" height="6.8" fill="#163d63"/>
<rect x="591.2" y="62.90" width="11.80" height="6.8" fill="#163d63"/>
<rect x="603.0" y="62.90" width="13.10" height="6.8" fill="#d6d6d6"/>
<rect x="555.9" y="71.80" width="29.10" height="6.8" fill="#163d63"/>
<rect x="591.2" y="71.80" width="8.30" height="6.8" fill="#d6d6d6"/>
<rect x="555.9" y="80.70" width="5.00" height="6.8" fill="#163d63"/>
<rect x="560.9" y="80.70" width="5.70" height="6.8" fill="#d6d6d6"/>
<rect x="555.9" y="89.60" width="4.70" height="6.8" fill="#163d63"/>
<rect x="555.9" y="98.50" width="9.50" height="6.8" fill="#163d63"/>
<rect x="565.4" y="98.50" width="4.30" height="6.8" fill="#d6d6d6"/>
<rect x="555.9" y="107.40" width="5.00" height="6.8" fill="#163d63"/>
<rect x="560.9" y="107.40" width="4.00" height="6.8" fill="#d6d6d6"/>
<rect x="555.9" y="116.30" width="5.30" height="6.8" fill="#163d63"/>
<rect x="561.2" y="116.30" width="0.90" height="6.8" fill="#d6d6d6"/>
<rect x="555.9" y="125.20" width="1.10" height="6.8" fill="#163d63"/>
<rect x="557.0" y="125.20" width="3.90" height="6.8" fill="#d6d6d6"/>
<rect x="555.9" y="134.10" width="7.10" height="6.8" fill="#163d63"/>
<rect x="555.9" y="143.00" width="3.70" height="6.8" fill="#163d63"/>
<rect x="559.6" y="143.00" width="0.40" height="6.8" fill="#d6d6d6"/>
<rect x="555.9" y="151.90" width="2.70" height="6.8" fill="#163d63"/>
<rect x="558.6" y="151.90" width="2.10" height="6.8" fill="#d6d6d6"/>
<rect x="555.9" y="160.80" width="3.30" height="6.8" fill="#163d63"/>
<rect x="559.2" y="160.80" width="2.70" height="6.8" fill="#d6d6d6"/>
<rect x="555.9" y="169.70" width="2.20" height="6.8" fill="#163d63"/>
<rect x="555.9" y="178.60" width="3.00" height="6.8" fill="#163d63"/>
<rect x="555.9" y="187.50" width="2.20" height="6.8" fill="#163d63"/>
<rect x="555.9" y="196.40" width="1.20" height="6.8" fill="#163d63"/>
<rect x="557.1" y="196.40" width="3.00" height="6.8" fill="#d6d6d6"/>
<rect x="555.9" y="205.30" width="2.40" height="6.8" fill="#163d63"/>
<rect x="555.9" y="214.20" width="2.10" height="6.8" fill="#163d63"/>
<rect x="555.9" y="223.10" width="1.00" height="6.8" fill="#163d63"/>
<rect x="555.9" y="232.00" width="7.20" height="6.8" fill="#163d63"/>
<rect x="563.1" y="232.00" width="10.60" height="6.8" fill="#d6d6d6"/>
<rect x="555.9" y="254.10" width="21.20" height="6.8" fill="#163d63"/>
<rect x="577.1" y="254.10" width="7.90" height="6.8" fill="#d6d6d6"/>
<rect x="591.2" y="254.10" width="12.30" height="6.8" fill="#d6d6d6"/>
<rect x="555.9" y="264.90" width="23.10" height="6.8" fill="#163d63"/>
<rect x="579.0" y="264.90" width="6.00" height="6.8" fill="#d6d6d6"/>
<rect x="591.2" y="264.90" width="4.90" height="6.8" fill="#d6d6d6"/>
<rect x="555.9" y="275.70" width="1.80" height="6.8" fill="#163d63"/>
<rect x="557.7" y="275.70" width="7.10" height="6.8" fill="#d6d6d6"/>
<rect x="555.9" y="286.50" width="7.00" height="6.8" fill="#d6d6d6"/>
<rect x="555.9" y="297.30" width="1.80" height="6.8" fill="#163d63"/>
<rect x="557.7" y="297.30" width="3.00" height="6.8" fill="#d6d6d6"/>
<rect x="555.9" y="308.10" width="6.50" height="6.8" fill="#163d63"/>
<rect x="562.4" y="308.10" width="22.10" height="6.8" fill="#d6d6d6"/>
<rect x="555.9" y="331.00" width="23.10" height="6.8" fill="#163d63"/>
<rect x="579.0" y="331.00" width="6.00" height="6.8" fill="#d6d6d6"/>
<rect x="591.2" y="331.00" width="23.60" height="6.8" fill="#d6d6d6"/>
<rect x="555.9" y="339.90" width="14.10" height="6.8" fill="#163d63"/>
<rect x="570.0" y="339.90" width="15.00" height="6.8" fill="#d6d6d6"/>
<rect x="591.2" y="339.90" width="18.70" height="6.8" fill="#d6d6d6"/>
<rect x="555.9" y="363.10" width="5.90" height="6.8" fill="#163d63"/>
<rect x="561.8" y="363.10" width="21.00" height="6.8" fill="#d6d6d6"/>
<rect x="555.9" y="374.18" width="1.50" height="6.8" fill="#163d63"/>
<rect x="557.4" y="374.18" width="23.70" height="6.8" fill="#d6d6d6"/>
<rect x="555.9" y="385.26" width="9.60" height="6.8" fill="#d6d6d6"/>
<rect x="555.9" y="396.34" width="3.00" height="6.8" fill="#d6d6d6"/>
<rect x="555.9" y="407.42" width="0.90" height="6.8" fill="#d6d6d6"/>
<rect x="555.9" y="417.4" width="29.00" height="8.6" fill="#163d63"/>
<text x="558.80" y="425.00" font-size="8.7" text-anchor="start" fill="#fff" style="stroke:none">1.4%</text>
<rect x="591.2" y="417.4" width="20.60" height="8.6" fill="#163d63"/>
<rect x="611.8" y="417.4" width="16.0" height="8.6" fill="#d6d6d6"/>
<text x="614.00" y="425.00" font-size="8.7" text-anchor="start">4.8%</text>
<text x="600.00" y="88.70" font-size="8.7" text-anchor="start">Percentage of tumors</text>
<circle cx="625.0" cy="95.80" r="1.1" fill="#b8b8b8"/>
<text x="635.80" y="98.90" font-size="8.7" text-anchor="start">&lt;0.5</text>
<circle cx="625.0" cy="106.95" r="2.0" fill="#b8b8b8"/>
<text x="635.80" y="110.05" font-size="8.7" text-anchor="start">0.5–1</text>
<circle cx="625.0" cy="118.10" r="2.6" fill="#b8b8b8"/>
<text x="635.80" y="121.20" font-size="8.7" text-anchor="start">1–2</text>
<circle cx="625.0" cy="129.25" r="3.2" fill="#b8b8b8"/>
<text x="635.80" y="132.35" font-size="8.7" text-anchor="start">2–5</text>
<circle cx="625.0" cy="140.40" r="3.8" fill="#b8b8b8"/>
<text x="635.80" y="143.50" font-size="8.7" text-anchor="start">5–10</text>
<circle cx="625.0" cy="151.55" r="4.4" fill="#b8b8b8"/>
<text x="635.80" y="154.65" font-size="8.7" text-anchor="start">10–20</text>
<circle cx="625.0" cy="162.70" r="5.0" fill="#b8b8b8"/>
<text x="635.80" y="165.80" font-size="8.7" text-anchor="start">&gt;20</text>
<circle cx="625.0" cy="175.8" r="4.8" fill="#b8b8b8" stroke="#000" stroke-width="1.1"/>
<text x="635.80" y="178.00" font-size="8.7" text-anchor="start"><tspan font-style="italic">P</tspan> &lt; 0.05</text>
<path d="M625,184.2 L630.8,190 L625,195.8 L619.2,190 Z" fill="#b8b8b8"/>
<text x="635.80" y="193.10" font-size="8.7" text-anchor="start">Singleton</text>
<text x="620.30" y="211.20" font-size="8.7" text-anchor="start">Tumor zygosity</text>
<rect x="621.1" y="214.9" width="6.7" height="5.8" fill="#163d63"/>
<text x="631.60" y="220.40" font-size="8.7" text-anchor="start">Biallelic</text>
<rect x="621.1" y="223.3" width="6.7" height="5.8" fill="#d6d6d6"/>
<text x="631.60" y="228.80" font-size="8.7" text-anchor="start">Heterozygous</text>
<defs><linearGradient id="cb" x1="0" y1="1" x2="0" y2="0"><stop offset="0" stop-color="#fde38a"/><stop offset="0.2" stop-color="#f9b44c"/><stop offset="0.4" stop-color="#f38d3c"/><stop offset="0.6" stop-color="#e6502c"/><stop offset="0.75" stop-color="#d92a2a"/><stop offset="0.87" stop-color="#c01e2e"/><stop offset="1" stop-color="#80152f"/></linearGradient></defs>
<rect x="626.2" y="256.2" width="8.0" height="126.2" fill="url(#cb)"/>
<line x1="634.2" y1="357.16" x2="636.2" y2="357.16" stroke="#888" stroke-width="0.7"/>
<text x="639.60" y="360.16" font-size="8.7" text-anchor="start">20</text>
<line x1="634.2" y1="331.92" x2="636.2" y2="331.92" stroke="#888" stroke-width="0.7"/>
<text x="639.60" y="334.92" font-size="8.7" text-anchor="start">40</text>
<line x1="634.2" y1="306.68" x2="636.2" y2="306.68" stroke="#888" stroke-width="0.7"/>
<text x="639.60" y="309.68" font-size="8.7" text-anchor="start">60</text>
<line x1="634.2" y1="281.44" x2="636.2" y2="281.44" stroke="#888" stroke-width="0.7"/>
<text x="639.60" y="284.44" font-size="8.7" text-anchor="start">80</text>
<text x="630.20" y="254.00" font-size="8.7" text-anchor="middle">100</text>
<text x="630.20" y="390.00" font-size="8.7" text-anchor="middle">0</text>
<text transform="translate(659.3,320.5) rotate(90)" font-size="8.7" text-anchor="middle">Rate of biallelic inactivation</text>
</svg></body></html>
